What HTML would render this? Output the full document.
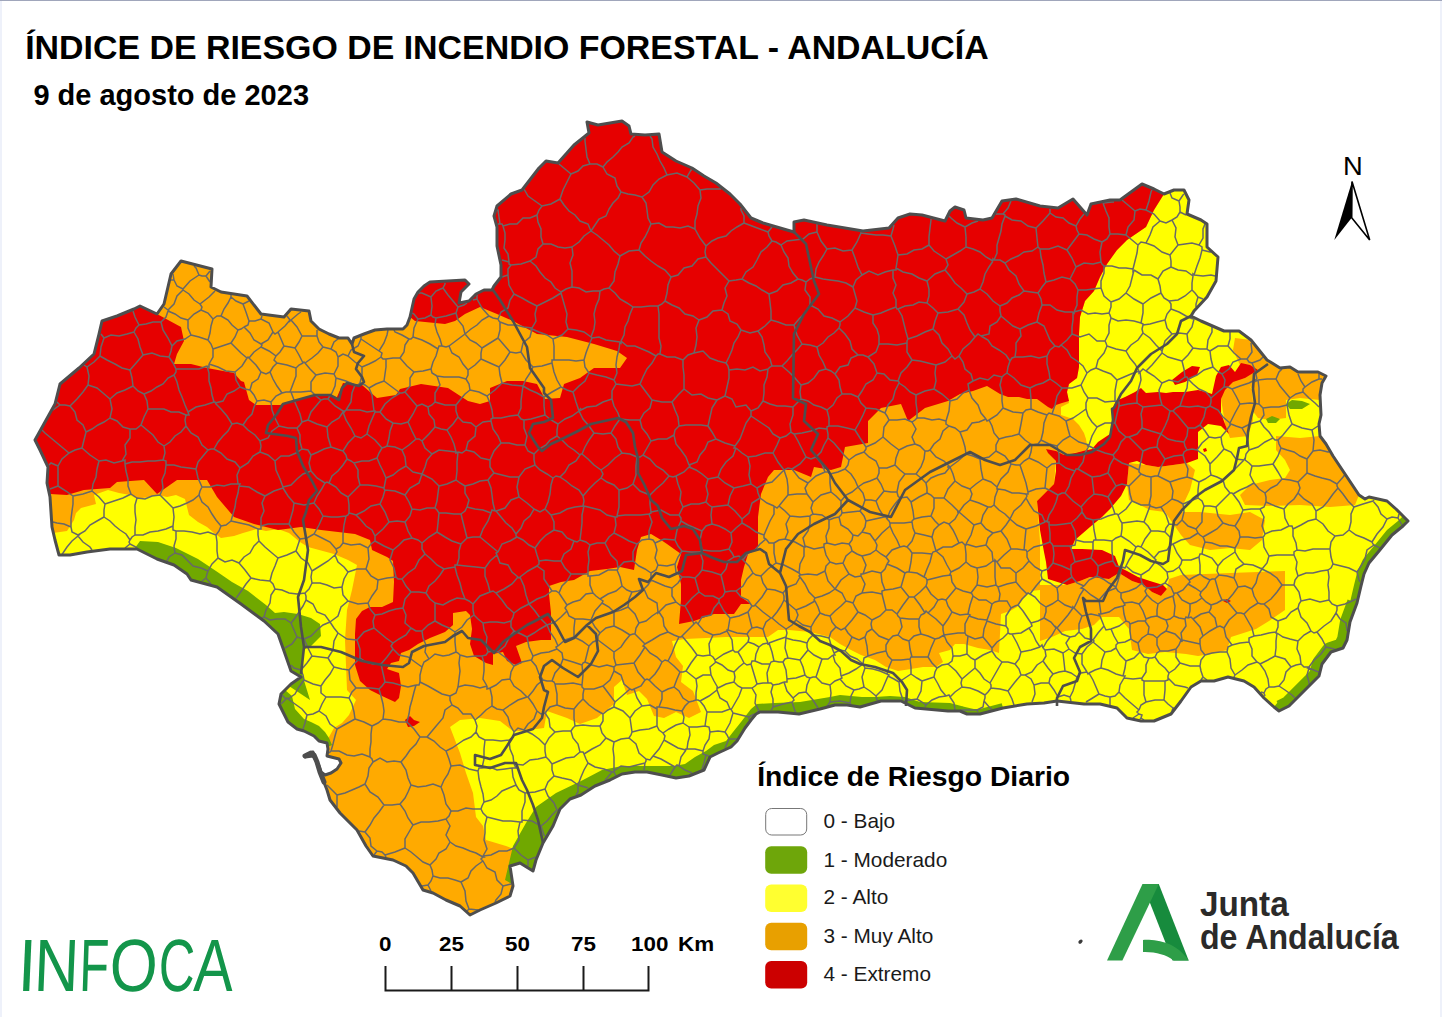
<!DOCTYPE html>
<html><head><meta charset="utf-8"><style>
html,body{margin:0;padding:0;background:#fff;}
body{width:1442px;height:1017px;overflow:hidden;position:relative;font-family:"Liberation Sans",sans-serif;}
.t{position:absolute;white-space:nowrap;line-height:1;}
#bl{position:absolute;left:0;top:0;width:2px;height:1017px;background:#eef1fa;}
#br{position:absolute;right:0;top:0;width:2px;height:1017px;background:#eef1fa;}
#bt{position:absolute;left:0;top:0;width:1442px;height:1px;background:#a0a6bb;}
svg{position:absolute;left:0;top:0;}
.inf{top:929.2px;font-size:74px;color:#13954a;}
.sc{top:934.3px;font-size:20px;font-weight:bold;color:#000;transform-origin:0 0;transform:scaleX(1.12);}
</style></head><body>
<div id="bl"></div><div id="br"></div><div id="bt"></div>
<svg width="1442" height="1017" viewBox="0 0 1442 1017">
<defs><clipPath id="c"><path d="M35,440 L55,404 L60,384 L79,368 L94,354 L99,334 L102,321 L117,316 L134,309 L140,306 L157,314 L164,304 L171,274 L181,261 L212,269 L211,287 L221,292 L247,296 L261,314 L284,317 L291,309 L309,311 L311,321 L319,329 L329,334 L339,338 L348,338 L352,344 L354,338 L364,334 L375,330 L387,329 L403,329 L407,325 L410,317 L414,299 L418,292 L424,286 L430,282 L465,280 L469,284 L461,292 L459,303 L469,301 L476,294 L484,290 L492,290 L494,286 L501,277 L501,265 L497,246 L497,227 L494,216 L497,206 L511,194 L522,190 L539,168 L546,161 L558,163 L574,145 L589,133 L587,122 L598,125 L622,121 L629,126 L631,134 L645,135 L659,134 L662,152 L676,161 L692,168 L704,176 L716,183 L730,194 L740,204 L751,218 L763,223 L787,230 L794,232 L794,222 L804,220 L827,225 L863,231 L889,228 L898,218 L910,214 L922,215 L945,221 L950,211 L955,207 L964,210 L966,218 L983,220 L992,218 L1002,201 L1016,199 L1040,206 L1058,208 L1073,199 L1087,215 L1091,204 L1110,200 L1120,200 L1131,192 L1142,184 L1154,189 L1164,194 L1174,190 L1184,190 L1189,200 L1187,214 L1201,220 L1207,224 L1207,247 L1218,257 L1216,281 L1207,297 L1194,311 L1191,316 L1201,321 L1224,331 L1239,331 L1251,340 L1259,350 L1267,360 L1280,368 L1290,367 L1298,372 L1318,372 L1326,376 L1322,383 L1320,395 L1321,415 L1319,424 L1320,436 L1326,444 L1333,456 L1341,468 L1351,483 L1359,495 L1365,499 L1369,497 L1387,501 L1396,509 L1408,521 L1403,526 L1392,535 L1379,551 L1369,563 L1364,574 L1361,586 L1357,603 L1350,622 L1347,640 L1343,648 L1331,652 L1322,664 L1319,676 L1310,685 L1298,697 L1289,706 L1279,711 L1274,707 L1264,698 L1254,687 L1244,681 L1228,677 L1214,681 L1201,681 L1191,687 L1181,701 L1171,714 L1154,721 L1141,721 L1127,718 L1117,708 L1100,704 L1084,704 L1057,701 L1044,703 L1027,704 L1003,708 L980,714 L967,714 L960,711 L948,711 L915,708 L901,701 L881,701 L860,707 L847,705 L835,705 L820,709 L799,714 L778,712 L760,712 L756,714 L751,720 L745,728 L737,741 L731,747 L718,753 L710,757 L704,770 L689,776 L676,778 L662,775 L647,772 L635,772 L622,774 L610,780 L595,786 L581,795 L570,799 L560,809 L553,826 L543,843 L536,860 L533,871 L520,863 L510,866 L513,886 L510,896 L496,903 L480,910 L470,915 L460,906 L446,900 L433,893 L423,890 L413,873 L406,866 L393,860 L373,856 L366,846 L357,830 L350,823 L340,813 L330,800 L327,790 L323,780 L319,769 L316,759 L313,752 L306,755 L305,757 L313,756 L316,760 L319,766 L321,772 L325,775 L331,773 L337,769 L341,763 L339,759 L331,757 L327,756 L328,749 L327,743 L319,741 L314,736 L304,731 L297,729 L288,722 L279,704 L281,694 L291,684 L301,677 L291,671 L284,651 L278,634 L264,621 L241,604 L217,587 L191,580 L187,574 L174,565 L157,559 L137,549 L110,549 L87,552 L70,555 L59,555 L55,540 L52,527 L50,497 L47,483 L48,467 L40,450 Z"/></clipPath></defs>
<g clip-path="url(#c)">
<rect x="0" y="0" width="1442" height="1017" fill="#ffaa00"/>
<path fill="#ffff00" d="M40,534 L53,533 L67,531 L74,520 L76,513 L81,508 L96,504 L94,495 L108,490 L119,493 L130,495 L137,499 L148,497 L158,495 L167,497 L176,495 L185,499 L189,515 L198,522 L207,527 L214,533 L221,538 L234,536 L243,533 L257,529 L266,531 L278,529 L289,533 L300,542 L308,547 L334,554 L348,560 L357,565 L352,590 L347,610 L345,640 L347,690 L356,700 L349,715 L342,723 L334,728 L329,737 L326,742 L300,770 L200,720 L20,600 Z M516,863 L516,850 L506,846 L486,840 L483,826 L476,817 L473,793 L466,773 L460,753 L450,727 L460,720 L480,718 L500,721 L513,731 L520,731 L544,728 L547,711 L567,718 L580,724 L597,718 L614,704 L614,687 L622,680 L627,695 L639,691 L647,699 L654,716 L664,718 L676,712 L689,718 L701,712 L693,691 L681,682 L683,666 L676,657 L672,641 L685,639 L706,638 L726,637 L747,637 L768,637 L778,630 L789,630 L810,632 L830,637 L840,644 L851,650 L861,655 L875,660 L886,667 L898,671 L911,669 L923,667 L936,667 L943,662 L939,653 L950,650 L955,644 L964,644 L978,648 L990,650 L999,653 L1001,614 L1010,611 L1017,607 L1024,598 L1031,591 L1040,590 L1040,541 L1037,501 L1046,492 L1054,484 L1056,461 L1046,449 L1064,455 L1083,451 L1088,451 L1086,439 L1084,433 L1079,425 L1073,419 L1061,415 L1061,407 L1069,403 L1067,392 L1069,384 L1077,378 L1079,367 L1079,334 L1080,317 L1085,301 L1094,291 L1100,277 L1107,264 L1117,250 L1127,240 L1146,227 L1154,210 L1164,194 L1260,150 L1442,150 L1442,1017 L540,1017 L540,880 Z"/>
<path fill="#ffaa00" d="M1040,585 L1067,585 L1080,581 L1090,577 L1109,579 L1119,573 L1132,581 L1144,585 L1152,592 L1161,596 L1167,589 L1169,579 L1181,575 L1230,573 L1285,571 L1285,610 L1269,621 L1256,629 L1231,637 L1227,650 L1211,654 L1198,656 L1186,654 L1165,652 L1148,654 L1132,650 L1129,629 L1119,617 L1102,617 L1094,625 L1082,629 L1065,631 L1052,637 L1040,641 Z M1235,338 L1251,340 L1259,350 L1267,360 L1280,368 L1290,367 L1298,372 L1318,372 L1326,376 L1322,383 L1320,400 L1300,398 L1286,400 L1286,418 L1270,420 L1258,418 L1252,410 L1253,390 L1245,380 L1240,365 L1233,350 Z M1225,380 L1245,378 L1252,390 L1253,420 L1248,436 L1230,438 L1225,424 L1221,399 Z M1276,436 L1300,438 L1320,436 L1326,444 L1333,456 L1341,468 L1351,483 L1359,495 L1355,505 L1330,507 L1300,505 L1270,506 L1245,505 L1240,495 L1250,485 L1270,480 L1285,478 L1290,470 L1285,460 L1276,450 Z M1129,463 L1146,465 L1158,467 L1173,465 L1187,463 L1195,470 L1190,490 L1183,505 L1181,512 L1200,512 L1230,515 L1250,512 L1265,520 L1262,540 L1250,550 L1230,548 L1210,550 L1190,545 L1181,535 L1165,512 L1150,510 L1140,505 L1129,500 L1127,484 Z"/>
<path fill="#e60000" d="M48,488 L47,483 L48,467 L40,450 L35,440 L55,404 L60,384 L79,368 L94,354 L99,334 L102,321 L117,316 L134,309 L140,306 L157,314 L181,327 L184,341 L177,354 L174,364 L191,364 L207,368 L234,373 L241,381 L244,382 L249,400 L256,405 L280,405 L296,400 L318,395 L337,397 L343,383 L362,385 L370,392 L377,398 L396,395 L400,389 L421,384 L448,388 L468,401 L480,404 L490,401 L490,388 L507,381 L523,381 L537,384 L545,399 L560,398 L564,384 L580,378 L594,368 L620,368 L627,358 L617,351 L594,344 L567,337 L537,334 L513,321 L497,314 L480,307 L465,314 L455,321 L445,324 L415,321 L410,317 L414,299 L418,292 L424,286 L430,282 L465,280 L469,284 L461,292 L459,303 L469,301 L476,294 L484,290 L492,290 L494,286 L501,277 L501,265 L497,246 L497,227 L494,216 L497,206 L511,194 L522,190 L539,168 L546,161 L558,163 L574,145 L589,133 L587,122 L598,125 L622,121 L629,126 L631,134 L645,135 L659,134 L662,152 L676,161 L692,168 L704,176 L716,183 L730,194 L740,204 L751,218 L763,223 L787,230 L794,232 L794,222 L804,220 L827,225 L863,231 L889,228 L898,218 L910,214 L922,215 L945,221 L950,211 L955,207 L964,210 L966,218 L983,220 L992,218 L1002,201 L1016,199 L1040,206 L1058,208 L1073,199 L1087,215 L1091,204 L1110,200 L1120,200 L1131,192 L1142,184 L1154,189 L1164,194 L1154,210 L1146,227 L1127,240 L1117,250 L1107,264 L1100,277 L1094,291 L1085,301 L1080,317 L1079,334 L1079,367 L1077,378 L1069,384 L1067,392 L1069,401 L1062,403 L1056,405 L1052,409 L1048,407 L1037,399 L1027,399 L1019,397 L1008,397 L1000,394 L987,386 L973,391 L960,394 L948,401 L925,408 L908,421 L901,404 L881,408 L868,421 L868,443 L845,447 L841,467 L831,470 L814,467 L811,477 L794,470 L774,470 L768,477 L761,494 L758,517 L758,547 L748,554 L744,567 L741,580 L741,597 L751,604 L741,604 L734,614 L714,614 L694,621 L679,624 L681,600 L681,584 L677,567 L681,554 L667,544 L661,540 L651,534 L641,537 L637,550 L634,570 L620,567 L607,569 L590,571 L574,580 L561,582 L549,586 L549,594 L551,613 L551,640 L541,640 L526,642 L516,646 L522,663 L516,665 L507,661 L503,652 L493,654 L493,665 L486,663 L474,656 L470,644 L472,629 L470,615 L466,611 L453,613 L453,625 L445,632 L430,638 L418,644 L409,650 L401,653 L399,661 L391,663 L387,669 L399,673 L401,686 L399,698 L395,702 L382,696 L370,690 L360,681 L355,665 L355,634 L356,619 L362,611 L370,607 L382,607 L393,602 L394,582 L393,561 L387,557 L372,550 L370,540 L355,534 L321,530 L301,527 L278,530 L254,524 L234,517 L217,497 L207,480 L177,480 L167,487 L157,494 L144,480 L117,482 L110,488 L84,490 L67,495 L50,494 Z M1116,401 L1125,397 L1135,392 L1141,388 L1146,393 L1158,392 L1166,393 L1173,392 L1185,392 L1198,390 L1206,392 L1212,394 L1216,376 L1221,367 L1229,365 L1235,372 L1241,363 L1250,365 L1258,370 L1245,378 L1233,382 L1225,390 L1221,399 L1221,413 L1225,424 L1229,434 L1221,426 L1208,424 L1198,432 L1198,459 L1187,463 L1173,465 L1158,467 L1146,465 L1137,461 L1129,463 L1127,484 L1121,496 L1110,509 L1102,517 L1090,527 L1075,540 L1071,549 L1082,549 L1102,550 L1115,556 L1119,567 L1127,571 L1138,577 L1150,581 L1163,585 L1167,589 L1161,596 L1152,592 L1144,585 L1132,581 L1119,573 L1109,579 L1090,577 L1080,581 L1067,585 L1048,579 L1046,562 L1044,552 L1040,530 L1037,501 L1046,492 L1054,484 L1056,471 L1056,461 L1048,453 L1046,449 L1056,451 L1064,455 L1075,453 L1083,451 L1092,449 L1098,442 L1110,434 L1112,422 L1112,409 Z M1172,380 L1182,372 L1192,366 L1200,367 L1197,375 L1185,382 L1175,385 Z M405,720 L410,716 L414,720 L420,722 L414,726 L408,727 Z M1223,601 L1227,599 L1231,601 L1227,603 Z M1203,449 L1206,448 L1207,451 L1204,452 Z"/>
<path fill="#70a800" d="M134,562 L135,548 L140,541 L158,542 L176,548 L198,559 L216,571 L232,582 L248,591 L266,605 L275,613 L284,612 L298,614 L311,618 L320,624 L321,636 L311,646 L303,650 L302,674 L310,700 L250,660 L120,570 Z M285,690 L292,696 L295,709 L304,719 L311,722 L319,726 L325,732 L329,738 L332,745 L300,760 L265,710 L275,690 Z M505,880 L513,846 L526,823 L536,807 L556,793 L583,780 L602,770 L622,766 L654,766 L674,766 L685,764 L695,757 L706,751 L714,745 L726,741 L733,732 L741,722 L751,709 L757,704 L775,703 L800,702 L830,697 L840,695 L862,697 L875,697 L890,696 L905,697 L920,702 L950,703 L965,707 L987,712 L1000,712 L1010,713 L1010,730 L800,730 L600,820 L540,900 Z M1286,404 L1292,400 L1302,401 L1310,404 L1302,409 L1290,409 Z M1266,419 L1272,416 L1280,419 L1276,423 L1268,423 Z"/>
<path fill="none" stroke="#70a800" stroke-width="14" stroke-linejoin="round" d="M1408,521 L1403,526 L1392,535 L1379,551 L1369,563 L1364,574 L1361,586 L1357,603 L1350,622 L1347,640 L1343,648 L1331,652 L1322,664 L1319,676 L1310,685 L1298,697 L1289,706 L1279,711 L1274,707"/>
<path fill="none" stroke="#70a800" stroke-width="20" stroke-linejoin="round" d="M1357,603 L1350,622 L1347,640 L1343,648 L1331,652 L1322,664 L1319,676 L1310,685 L1298,697 L1289,706 L1281,710"/>
<path fill="none" stroke="#70a800" stroke-width="10" stroke-linejoin="round" d="M1003,708 L980,714 L967,714 L960,711"/>
<path fill="none" stroke="#686868" stroke-width="1.5" d="M650,136 652,139 653,147 657,154 660,161 664,168 667,175M692,170 691,170 687,177M667,175 677,173 687,177M679,426 686,425 693,425 701,425 708,426M679,426 678,417 675,410 672,402M708,426 710,417 712,408 717,400M717,400 708,398 701,394 692,395 684,389M672,402 678,395 684,389M687,177 694,183 700,190M700,190 707,189 714,189 721,189 721,189M700,190 701,198 698,206 697,214 695,221 695,229M706,246 700,238 695,229M706,246 712,241 718,238 726,236 731,231 737,227 744,223M741,208 741,210 744,216 744,223M665,301 667,293 668,285 671,277M665,301 672,305 679,308 685,314 693,316 699,320M671,277 678,275 684,268 692,266 698,259 706,257M706,257 711,263 717,269 723,275 729,281M729,281 725,288 727,296 724,303 722,310M699,320 707,317 713,311 722,310M665,301 662,304 658,306M658,306 659,314 659,322 659,330 659,338 661,346 660,354M683,360 675,357 667,357 660,354M683,360 688,355 694,353M699,320 696,328 697,337 696,345 694,353M667,175 659,179 653,185 649,192 642,197M635,136 633,137 629,143 622,147 618,152 613,157 607,162 603,167M603,167 607,174 615,178 617,186 621,192M642,197 635,195 628,194 621,192M695,229 688,226 680,228 673,227 666,227 659,223 651,224M642,197 646,203 647,210 648,218 651,224M671,277 665,270 658,266 651,261 645,256 639,250M706,257 705,252 706,246M651,224 648,231 645,237 641,243 639,250M603,167 597,164 590,164M585,138 585,141 586,149 587,157 590,164M658,306 650,306 641,307 633,307M660,354 658,354 656,356M633,307 630,314 628,321 625,327 624,335 621,341M656,356 649,352 642,349 635,346 627,346 621,341M679,426 675,430 674,435M708,426 712,432 716,439M716,439 708,442 705,449 700,455 697,462 689,465M674,435 676,444 681,450 686,457 689,465M221,526 216,520 212,514 208,507 202,502 199,495M221,526 219,531 216,535M199,495 193,500 187,503 180,506 173,508M216,535 208,532 200,534 192,532 184,531 176,531M176,531 173,530 173,526M173,526 174,517 173,508M58,486 50,489M58,486 58,476 58,466M58,466 51,463 49,465M53,522 57,523 64,524 71,527M71,527 71,519 72,511 73,504 73,496M73,496 66,491 58,486M166,465 174,465 181,467 189,468 196,469M166,465 165,473 162,480 163,488 160,495M199,495 200,491 202,487M173,508 167,502 160,495M196,469 198,478 202,487M369,388 365,385 360,383M369,388 376,384 384,381M360,383 362,375 362,367M386,359 386,367 385,374 384,381M386,359 383,359 381,357M362,367 369,364 375,361 381,357M422,886 428,885M428,885 431,891M925,707 926,705M926,705 922,702 917,699M917,699 910,700 904,701M1295,698 1292,695 1285,690 1279,686M1265,696 1264,693M1279,686 1274,687 1269,687M1269,687 1266,689 1264,693M1373,501 1374,500M1373,501 1378,507 1381,514 1387,519M1399,514 1398,518M1398,518 1392,517 1387,519M1344,475 1344,476 1337,484M1354,507 1363,504 1373,501M1354,507 1348,501 1343,494 1338,488M1337,484 1337,486 1338,488M1349,530 1356,535 1364,538 1372,542M1349,530 1351,522 1351,514 1354,507M1372,542 1377,534 1383,527 1387,519M1402,525 1398,518M1015,357 1012,358 1010,361M1015,357 1016,350 1016,343 1021,336 1020,329M1010,361 1006,355 999,350 992,346 988,340 981,336M981,336 989,334 990,326 997,322 1001,316M1020,329 1013,326 1007,321 1001,316M742,279 749,283 756,286 762,290 769,294M742,279 736,280 729,281M722,310 728,314 730,321 737,324 741,330M771,320 771,311 770,302 769,294M771,320 765,326 758,331M758,331 750,333 741,330M694,353 703,351 710,358 718,361 726,363M741,330 738,337 734,343 732,350 729,357 726,363M725,396 721,398 717,400M725,396 727,387 729,378 729,370M684,389 684,382 684,375 683,367 683,360M729,370 728,366 726,363M621,192 618,198 613,203 609,209 606,216 599,219 595,225 591,231M639,250 629,251 620,256M591,231 592,231 591,231M620,256 614,251 609,245 603,240 597,235 591,231M633,307 627,303 620,299 615,293 609,288M620,256 618,264 615,272 614,281 609,288M592,338 591,337 591,337M592,338 599,337 606,340 613,341 620,342M620,342 621,343 621,341M591,337 594,329 595,322 594,314 596,306 599,299 600,291M609,288 604,289 600,291M591,231 588,224 580,221 575,215 569,211 564,205 560,199M590,164 583,166 578,171 571,174M560,199 563,190 567,182 571,174M571,174 565,169 559,164 559,164M485,568 485,576 488,584 490,592M485,568 490,561 497,555M497,555 500,563 508,565 512,572 518,577M518,577 512,584 504,589 496,593M490,592 493,591 496,593M529,604 526,595 524,586 520,577M529,604 537,599 545,596 552,591M520,577 528,571 537,566M537,566 544,571 544,579 548,585 552,591M535,548 537,555 539,561M535,548 540,541 546,535 554,530M554,530 562,532 567,538 574,541M539,561 546,560 554,561 561,561M561,561 564,554 571,549 574,541M674,435 667,439 658,439 651,441M651,441 647,448 643,455M643,455 650,459 656,466 663,470 669,476M689,465 690,466 689,467M689,467 684,472 676,476M676,476 673,477 669,476M706,502 699,504 691,504 683,507M706,502 708,494 706,486 708,479M708,479 702,474 696,470 689,467M676,476 678,484 681,492 680,500 683,507M725,396 732,399 736,407 746,405 751,411M716,439 725,443 735,446M751,411 751,414 751,416M735,446 740,439 743,431 746,423 751,416M612,399 612,391 616,384M612,399 614,406 618,413 620,419M616,384 624,385 632,386 640,384M640,420 630,420 620,419M640,420 644,413 650,408 652,400M652,400 646,392 640,384M656,356 652,363 647,369 643,377 640,384M620,342 619,349 617,357 616,365 617,373 614,380M614,380 615,382 616,384M672,402 662,402 652,400M651,441 647,434 642,428 640,420M210,271 206,276M206,276 202,276 199,275M199,275 196,268 194,266M173,526 166,529 158,531 150,532 143,535 135,535M160,495 152,496 145,499 137,498M137,498 135,505 135,512 136,520 135,527 135,535M168,310 174,304 177,296 183,290M168,310 164,307M171,280 174,280M174,280 177,286 183,289M183,289 183,290 183,290M173,274 174,280M199,275 190,281 183,289M337,729 346,724 355,719M337,729 335,736 333,744 331,751M355,719 364,722 372,726M331,751 339,751 347,755 354,756 362,754 370,757M372,726 371,734 371,742 370,749 370,757M337,729 330,724 326,716 319,711M355,719 354,712 352,704 349,698M319,711 322,704 326,697M349,698 341,697 334,697 326,697M216,535 217,542 217,551 218,558M176,531 176,539 174,546 175,553M175,553 182,555 188,561 193,566 201,568 208,571M208,571 212,564 218,558M480,537 483,529 488,521 491,513M480,537 486,542 492,547 498,552M498,552 502,544 510,541 517,537M491,513 492,510 495,511M517,537 516,536 516,534M516,534 512,528 506,523 501,517 496,511M495,511 496,511 496,511M467,538 473,537 480,537M467,538 465,530 463,522 461,514M461,514 465,511 467,507M467,507 475,509 483,510 491,513M485,568 476,567 466,566 457,565M497,555 496,553 498,552M467,538 464,541 461,544M461,544 459,551 459,558 457,565M518,577 519,578 520,577M535,548 529,545 523,540 517,537M537,566 539,564 539,561M488,480 491,488 492,495 493,503 495,511M488,480 480,481 473,484 465,486M465,486 465,493 469,500 467,507M534,509 527,503 519,497M534,509 530,516 524,521 521,528 516,534M519,497 511,500 505,508 496,511M457,565 455,565 455,567M490,592 480,596 473,604M473,604 469,601 465,599M465,599 462,591 460,583 457,575 455,567M215,403 221,409 227,416 232,424M215,403 223,401 227,394 234,391 240,387M257,401 254,395 250,390M257,401 254,407 252,414 247,419 243,425M243,425 237,423 232,424M240,387 245,389 250,390M206,276 210,282M183,290 189,294 194,300 200,304M215,291 209,297 200,304M278,558 272,553 265,547 259,541M278,558 275,566 272,573 270,581M259,541 254,546 250,553 244,557 239,563M270,581 260,580 251,578M239,563 245,570 251,578M221,526 226,525 231,521M231,521 240,523 249,525 258,529M258,529 258,535 259,541M218,558 225,562 232,560 239,563M262,618 264,617M275,589 271,595 270,603 266,610 264,617M275,589 273,584 270,581M236,598 237,597 242,590 246,584 251,578M196,469 198,462 203,456 208,450M202,487 210,487 217,485 224,486 231,484 238,484M214,449 211,449 208,450M214,449 221,453 227,459 235,462 240,468M238,484 237,475 240,468M231,521 233,514 235,507 236,500 238,493 239,486M238,484 240,484 239,486M258,529 261,529 261,526M261,526 261,518 264,511 262,503 265,496M239,486 249,487 257,492 265,496M214,449 218,442 223,436 228,431 232,424M260,441 261,446 260,452M260,441 255,435 248,430 243,425M240,468 248,463 253,456 260,452M488,480 491,476 494,473M519,497 517,487 519,477M519,477 510,477 502,475 494,473M417,406 413,414 408,422M417,406 411,399 405,392M400,393 402,393 405,392M400,393 392,398 385,404 380,412M408,422 401,424 393,423M380,412 386,419 393,423M428,407 422,404 417,406M428,407 432,405 435,402M437,376 440,385 435,393 435,402M437,376 432,373 431,369M405,392 410,386 410,378 414,372M431,369 423,371 414,372M386,359 393,358 400,358M384,381 392,387 400,393M414,372 407,366 400,358M477,295 477,299M443,288 445,284 445,283M443,288 448,295 453,301 458,307M458,307 464,305 467,303M473,300 477,299M443,288 436,291 431,297M419,293 422,293 431,297M355,385 352,393 351,402 346,410M355,385 346,381 336,378M336,378 335,386 332,393 328,399M328,399 335,406 343,411M343,411 345,411 346,410M369,388 372,395 373,403 374,411M360,383 358,385 355,385M346,410 353,410 360,410 367,412 374,411M380,412 378,412 375,412M374,411 375,411 375,412M302,449 300,442 300,435 297,428M302,449 296,453 289,456 281,456 275,461M260,441 268,438 272,431 279,426M260,452 268,455 275,461M279,426 288,428 297,428M257,401 264,400 271,402M279,426 275,418 272,410 271,402M644,770 644,770 645,763M670,775 675,767M675,767 668,763 661,759 653,756M653,756 650,760 646,759M645,763 646,761 646,759M483,861 476,866 471,871 468,878 461,882M483,861 487,868 495,872 497,880 503,886M461,882 465,891 466,901 469,909M503,886 501,894 496,900 495,902M478,910 469,909M433,876 440,878 448,878 455,880 461,882M433,876 432,870 430,865M483,857 481,859 483,861M483,857 476,853 470,851 463,848 456,846 450,842M450,842 446,849 439,853 436,859 430,865M433,876 431,881 428,885M467,911 469,909M511,884 503,886M892,660 901,660 910,659M892,660 889,667 887,674M899,682 905,678 911,674M899,682 894,679 888,676M911,674 911,667 910,659M888,676 889,675 887,674M922,681 917,678 911,674M922,681 921,691 917,699M903,700 900,691 899,682M878,700 877,700 876,696M876,696 882,690 885,683 888,676M922,681 928,679 934,677M926,705 932,700 939,697 946,696M946,696 941,690 938,684 934,677M851,704 850,703M850,703 840,701 830,702M830,702 828,705 827,706M794,325 786,325 778,322 771,320M794,325 799,319 805,313 810,305M769,294 777,291 783,285 791,283 798,279M810,305 810,297 805,290 806,282M798,279 802,280 806,282M898,255 895,246 891,236M898,255 897,262 896,268M891,236 883,235 876,235 868,234 861,233M862,275 858,267 855,258 852,250M862,275 869,271 878,275 885,272 893,270M893,270 896,270 896,268M852,250 857,242 861,233M862,275 856,280 853,287M853,287 846,283 838,281 830,280 823,279 815,277M815,277 816,269 819,262 823,256 827,249M852,250 843,251 835,248 827,249M894,225 893,229 891,236M861,232 861,233M967,294 961,288 955,283 950,276 945,270M967,294 964,302 958,309M958,309 948,312 938,313M945,270 935,274 927,281M927,281 929,289 929,296 927,303M938,313 933,308 927,303M980,289 974,292 967,294M980,289 987,294 993,301 1000,306M981,336 978,334 975,337M975,337 970,330 967,323 964,315 958,309M1000,306 1000,311 1001,316M893,270 893,278 896,285 893,293 896,300 896,307M896,268 903,272 912,274 919,278 927,281M896,307 897,309 898,309M898,309 905,306 913,305 919,302 927,303M933,329 935,321 938,313M933,329 925,332 917,336 908,339M908,339 906,332 904,324 902,316 898,309M1023,413 1021,424 1019,434M1023,413 1013,412 1003,408M999,439 1006,437 1012,436 1019,434M999,439 994,433 992,426 989,420M1003,408 997,415 989,420M1264,693 1261,692M1374,545 1380,548M1374,545 1367,550 1365,559 1361,566 1357,572M1357,572 1359,580 1360,582M1372,542 1373,544 1374,545M996,214 997,214 1003,214M1003,214 1008,208 1011,201M1050,209 1050,213M1050,213 1043,221 1036,228M1036,228 1028,226 1021,221 1012,220 1005,216M1005,216 1005,215 1003,214M965,227 966,237 966,247M965,227 957,223 951,218 949,216M931,219 931,220 930,228 929,237 929,245M966,247 960,251 953,255 946,259M929,245 934,251 940,255 946,259M1005,216 1002,224 1001,231 999,238 997,245 997,253 994,260M994,260 993,259 993,261M993,261 986,257 980,252 973,249 966,247M978,221 972,223 965,227M898,255 907,254 914,250 922,249 929,245M980,289 983,282 985,274 989,267 993,261M945,270 948,265 946,259M1122,200 1128,205 1135,211M1152,190 1151,192 1149,201 1146,210M1135,211 1140,209 1146,210M1135,211 1134,220 1128,227 1126,235M1146,210 1154,214 1160,221M1138,245 1132,240 1126,235M1138,245 1141,242 1146,243M1160,221 1153,227 1150,235 1146,243M1160,221 1166,223 1172,220M1170,255 1174,250 1178,245M1170,255 1162,252 1154,246 1146,243M1172,220 1176,228 1175,237 1178,245M1037,322 1039,313 1042,305M1037,322 1028,325 1020,329M1000,306 1007,303 1012,298 1019,295 1024,291M1042,305 1041,299 1038,293M1024,291 1031,292 1038,293M994,260 1000,260 1005,263M1024,291 1019,284 1016,276 1009,270 1005,263M1036,228 1037,238 1038,247M1005,263 1011,259 1018,256 1024,252 1032,251 1038,247M1015,357 1023,357 1031,356 1039,358 1047,356M1037,322 1044,326 1047,333 1050,340 1055,346M1047,356 1050,350 1055,346M1072,334 1067,340 1061,345M1072,334 1080,337 1089,334 1097,341 1105,341M1105,341 1106,343 1107,346M1096,368 1098,360 1104,353 1107,346M1096,368 1091,370 1087,373M1087,373 1083,366 1077,361 1071,357 1067,350 1061,345M1072,334 1072,327 1073,320 1073,312M1073,312 1065,312 1057,310 1050,305 1042,305M1055,346 1059,347 1061,345M1066,421 1073,418 1079,414 1086,409M1066,421 1068,429 1070,436M1070,436 1079,442 1089,445M1086,409 1088,416 1092,422 1097,427M1089,445 1092,436 1097,427M998,489 997,489 997,487M998,489 1005,490 1012,493 1019,493 1026,494M997,487 1001,479 1008,472 1011,464M1026,494 1028,494 1028,492M1028,492 1026,483 1023,474 1020,465M1011,464 1016,465 1020,465M980,459 981,469 983,479M980,459 989,457 996,451M996,451 1005,456 1011,464M983,479 991,482 997,487M999,439 996,445 996,451M1019,434 1025,440 1032,445M1032,445 1031,452 1029,458M1029,458 1024,461 1020,465M1029,458 1038,462 1047,468M1028,492 1036,489 1045,488M1045,488 1046,478 1047,468M1057,446 1059,454 1059,463M1057,446 1049,444 1041,440M1041,440 1038,444 1032,445M1059,463 1052,464 1047,468M825,472 822,464 816,457M825,472 816,476 808,483M808,483 799,478 792,469M792,469 800,464 806,457M806,457 811,459 816,457M930,450 936,457 944,461 950,467M930,450 934,444 940,439 943,431 949,426M949,426 955,428 960,432M960,432 963,440 965,447 966,454M966,454 958,461 950,467M980,459 973,456 966,454M989,420 987,421 986,419M986,419 979,422 972,423 967,430 960,432M825,472 828,472 830,474M816,457 821,452 824,445 828,438M830,474 838,472 845,469M845,469 848,465 849,460M849,460 844,455 839,449 834,443 828,438M794,434 798,441 802,449 806,457M794,434 802,433 811,431 819,428 827,429M827,429 828,434 828,438M925,451 924,459 921,467 916,474M925,451 928,451 930,450M950,467 947,467 950,467M950,467 945,473 938,475 931,478 926,483M916,474 921,478 926,483M545,745 539,739 532,734 524,730M545,745 545,751 546,757M546,757 538,759 530,760 523,765 514,764M514,764 513,756 510,749 509,740M509,740 513,737 514,732M514,732 518,728 524,730M555,732 550,727 549,719 545,713M555,732 549,738 545,745M545,713 541,714 537,711M537,711 534,719 528,724 524,730M485,740 493,740 501,741 509,740M485,740 484,749 484,759 482,768M482,768 490,767 497,770 505,769 512,768M512,768 516,768 514,764M476,732 479,737 485,740M476,732 477,726 475,720M475,720 481,715 486,710 492,706M492,706 497,709 503,710M503,710 508,717 510,725 514,732M503,710 510,705 518,700 527,697M537,711 533,704 528,697M527,697 528,697 528,697M605,780 607,778 612,772M588,788 585,787 578,785M578,785 581,777 584,770 588,763M612,772 604,769 595,767 588,763M616,776 614,772M612,772 613,772 614,772M645,763 637,765 629,767 621,766 614,771M614,771 614,772 614,772M675,767 677,765 679,766M679,766 685,770 692,773M646,759 639,753 636,744 629,738M614,771 614,764 614,757 613,749 614,742M629,738 621,739 614,742M567,611 561,617 555,622 547,625M567,611 569,616 575,619M558,646 565,640 574,637M558,646 555,639 550,632 547,625M575,619 574,628 574,637M563,659 560,667 555,673 552,681M563,659 573,662 582,665M582,685 583,675 582,665M582,685 573,683 564,684 555,684M555,684 554,682 552,681M557,649 562,653 563,659M557,649 549,652 541,653 533,656M533,656 532,659 531,660M531,660 536,666 539,674 543,680M543,680 547,681 552,681M574,709 565,708 557,705M574,709 578,704 583,699M557,705 557,694 555,684M583,699 583,694 584,689M584,689 582,687 582,685M545,713 550,707 557,705M543,680 537,685 533,691 528,697M529,604 521,608 514,613M529,604 535,611 540,618 547,625M547,625 540,629 534,633 527,637M527,637 521,634 514,631M514,631 511,627 511,621M511,621 513,617 514,613M529,604 528,603 529,604M496,593 502,600 507,607 514,613M557,649 556,647 558,646M533,656 529,647 527,637M547,625 547,624 547,625M483,623 478,619 474,615M483,623 490,622 497,622 504,623 511,621M474,615 473,610 473,604M510,679 511,672 514,666M510,679 502,680 496,685 490,688M514,666 506,658 498,652M490,688 487,689 487,686M487,686 483,679 484,671 484,663 482,656M498,652 493,651 488,652M488,652 486,655 482,656M531,660 522,662 514,666M527,697 521,691 514,686 510,679M492,706 492,697 490,688M514,631 509,638 505,646 498,652M475,720 471,714 463,714 458,708 452,705M452,705 450,700 450,696M458,687 456,693 450,696M458,687 465,685 473,686 480,688 487,686M458,687 459,679 460,671 459,663 460,655M460,655 467,657 475,656 482,656M483,623 484,630 487,637 486,645 488,652M455,632 462,627 467,620 474,615M455,632 455,642 456,652M456,652 458,653 460,655M782,366 789,372 795,378 801,385M782,366 777,366 772,366M768,369 770,367 772,366M768,369 767,377 764,385 764,393 763,401M763,401 770,404 777,406 785,406 793,407M801,385 800,392 801,399M801,399 797,403 793,407M826,369 819,371 814,378 808,383 801,385M826,369 823,362 819,355 817,347M817,347 810,345 802,344M802,344 797,350 792,355 787,361 782,366M794,325 797,335 802,344M758,331 762,337 764,345 765,352 770,359 772,366M729,370 737,369 745,370 753,367 760,371 768,369M751,411 758,408 763,401M791,432 786,436 780,438M791,432 790,424 793,415 793,407M751,416 757,420 763,424 769,428 773,434 780,438M591,231 584,236 579,242 572,247M600,291 593,291 586,292 579,288 572,287M572,287 572,279 572,271 570,263 573,255 572,247M567,605 563,599 559,593M567,605 573,602 580,600 586,594 593,593M559,593 562,586 567,581 571,574M571,574 579,574 588,574M593,593 590,585 590,576M590,576 588,576 588,574M567,611 565,608 567,605M552,591 556,591 559,593M561,561 565,568 571,574M590,545 586,542 580,540M590,545 588,552 589,560 588,567 588,574M580,540 577,542 574,541M731,533 736,528 742,523M731,533 725,529 719,526 712,524M728,505 735,511 742,519M728,505 720,506 712,507M742,519 742,521 742,523M712,507 711,515 712,524M729,549 732,542 731,533M729,549 720,551 711,551 702,550M702,531 700,540 702,550M702,531 706,526 712,524M706,502 709,505 712,507M683,507 681,511 679,515M679,515 681,518 681,521M702,531 695,528 688,525 681,521M617,570 620,577 622,586M617,570 608,570 599,575 590,576M593,593 596,596 600,599M622,586 616,591 608,594 600,599M591,620 583,619 575,619M591,620 595,611 602,603M600,599 603,601 602,603M708,479 713,478 718,477M735,446 734,448 736,448M736,448 733,456 726,462 721,469 718,477M728,505 730,496 734,488M718,477 725,483 734,488M105,504 114,501 123,498 131,494M105,504 104,510 104,517M131,494 134,496 137,498M135,535 132,537 130,540M104,517 110,521 115,526 120,530 126,534 130,540M71,527 72,532 78,535M73,496 83,494 92,491M92,491 99,497 105,504M104,517 97,521 90,525 85,531 78,535M62,554 63,553 67,547 72,541 78,536M78,535 79,535 78,536M78,536 83,542 90,547 92,550M125,464 125,460 122,461M125,464 132,462 140,462 148,461 155,461 163,460M122,461 126,454 125,445 130,438 130,429M163,460 165,453 164,446M164,446 158,442 153,435 147,430 141,425M130,429 136,429 141,425M92,491 93,484 96,477 97,469 99,461M131,494 128,486 128,479 126,471 125,464M99,461 106,460 114,463 122,461M166,465 166,461 163,460M208,450 202,445 198,437 191,433 186,426M186,426 181,432 175,436 170,442 164,446M58,466 62,459 69,453M69,453 63,448 57,443 51,438 45,433 42,430M99,461 90,455 82,448M69,453 75,450 82,448M130,429 123,427 117,421 110,418M82,448 84,440 86,432M110,418 104,422 98,425 92,429 86,432M60,405 53,410M60,405 65,405 70,406M86,432 83,425 77,420 75,412 70,406M319,711 313,714 307,715M331,751 329,753 329,753M307,715 305,723 303,729M450,696 442,694 435,690 428,686 420,682M456,652 449,655 443,656 435,654 429,659M420,682 420,675 422,667M429,659 424,662 422,667M416,685 419,685 420,682M416,685 408,687 400,685 393,683 385,682M393,649 399,655 408,657 415,662 422,667M393,649 387,657 381,664M381,664 383,673 385,682M383,719 378,723 372,726M383,719 384,711 383,704 381,696 379,689M349,698 352,692 356,688M356,688 363,688 371,688 379,689M416,685 414,692 412,700 410,707 409,714 407,722M383,719 391,720 399,722 407,722M379,689 382,686 385,682M386,857 385,855M430,865 423,862 417,857 411,852 405,848M385,855 395,852 405,848M450,842 446,835 450,826 446,819M446,819 438,821 429,822 421,822 413,825M405,848 405,839 409,832 413,825M321,686 321,693 326,697M321,686 325,680 330,674 334,667M356,688 350,680 349,670M334,667 342,669 349,670M381,664 373,664 366,662 360,658M360,658 354,664 349,670M282,695 286,699M286,699 287,698 288,699M288,699 295,694 299,687 304,680M291,665 294,668 301,670M304,680 303,675 301,670M281,704 286,699M307,715 302,709 295,704 288,699M321,686 313,684 304,680M206,578 211,584M206,578 202,581M208,571 207,574 206,578M643,455 640,457 637,457M669,476 663,483 656,489 650,495M637,457 636,466 636,475 633,484M633,484 640,491 650,495M679,515 670,515 661,510 651,512M650,495 650,504 651,512M681,521 677,530 675,540M675,540 664,539 655,543M649,539 653,540 655,543M649,539 649,531 652,522 649,514M649,514 651,513 651,512M620,419 615,426 611,433M637,457 630,454 622,453M622,453 618,447 616,439 611,433M579,411 587,407 596,406 603,402 612,399M579,411 583,419 589,426 594,433M594,433 603,434 611,433M534,509 540,512 545,509M535,465 525,469 519,477M535,465 540,470 547,474 553,478M553,478 551,485 550,494 548,502 545,509M554,530 554,522 551,515M545,509 548,512 551,515M387,446 389,438 390,431 393,423M387,446 395,447 402,450M408,422 412,431 416,439M402,450 409,445 416,439M435,427 434,420 429,414 428,407M435,427 429,434 422,441M422,441 419,439 416,439M461,514 454,514 446,513 439,513M461,544 452,541 445,537 437,532M437,532 438,523 439,513M465,486 460,483 456,480M456,480 447,484 439,486M439,486 438,493 437,501 435,508M439,513 437,510 435,508M455,567 449,568 444,569M422,543 429,537 437,532M422,543 422,549 425,554M425,554 431,559 437,565 444,569M207,366 209,373 209,381 211,388 212,395 214,402M207,366 209,367 209,364M214,402 215,402 215,403M240,387 236,380 235,372M235,372 226,371 218,367 209,364M261,347 269,351 276,356M261,347 254,352 249,358M249,358 256,365 261,372M276,356 274,360 277,363M277,363 273,367 270,372M261,372 266,374 270,372M250,390 252,383 258,379 261,372M235,372 242,366 247,358M247,358 248,357 249,358M296,368 296,376 293,384 290,392M296,368 287,365 277,363M282,393 286,392 290,392M282,393 277,386 273,379 270,372M271,402 276,396 282,393M168,311 175,314 181,318 188,320M168,311 169,311 168,310M200,304 202,307 201,310M188,320 194,314 201,310M275,461 276,470 280,479 283,487M265,496 274,491 283,488M283,487 283,488 283,488M311,455 308,450 302,449M311,455 309,463 311,471M283,487 291,485 297,479 303,474 311,471M521,352 516,353 510,352M521,352 526,360 533,367M510,352 505,360 499,367M533,367 530,373 526,379 523,386M499,367 500,375 502,383M502,383 512,385 523,386M523,386 523,386 523,386M553,339 547,335 539,332 532,329M553,339 554,346 554,353 554,360M521,352 523,343 530,337 532,329M533,367 542,366 552,363M554,360 552,360 552,363M592,338 589,345 586,353 584,360M568,329 576,330 584,332 591,337M568,329 562,335 553,339M554,360 562,360 569,360 576,361 584,360M614,380 606,377 597,375 589,373M584,360 585,367 589,373M535,465 534,460 534,454M534,454 528,451 525,445M494,473 490,467 490,460M490,460 494,451 501,443M525,445 517,445 509,443 501,443M502,383 495,390 487,396M523,386 522,393 521,401 521,408 518,415M518,415 510,416 501,418 493,418M487,396 490,403 492,410 493,418M437,376 444,377 451,377 459,377 466,379M435,402 445,405 456,405M466,379 469,384 470,390M470,390 465,394 460,400 456,405M525,445 527,436 524,428 524,420M524,420 521,419 518,415M501,443 498,436 493,429 491,421M493,418 491,419 491,421M362,367 355,362 348,356M348,356 351,350 358,346 361,339M381,357 382,353 379,351M361,339 367,343 373,347 379,351M510,352 504,345 498,338M532,328 531,329 532,329M532,328 524,327 516,325 508,325 500,322M498,338 500,330 500,322M498,338 490,343 482,348M489,316 482,320 477,325 471,329 465,334M489,316 493,318 498,319M498,319 499,321 500,322M465,334 470,340 476,343 482,348M499,367 490,363 481,359M482,348 481,353 481,359M466,379 468,375 468,370M487,396 479,392 470,390M468,370 475,365 481,359M436,318 435,325 437,332 440,339 442,346M436,318 446,316 456,313M456,313 458,320 463,326 465,334M465,334 457,340 449,346M442,346 446,347 449,346M458,307 457,310 456,313M431,315 432,306 431,297M431,315 433,317 436,318M477,299 482,308 489,316M465,334 465,334 465,334M468,370 463,364 459,357 452,353 449,346M431,369 433,362 436,356 438,349M438,349 439,346 442,346M412,313 414,314 418,319M394,330 395,332 402,335 409,339M418,319 414,328 413,337M409,339 411,339 413,337M431,315 425,318 418,319M361,339 361,337M379,351 384,343 387,335 388,330M400,358 404,352 405,345 409,339M438,349 430,344 422,340 413,337M291,392 294,400 297,407 300,414 302,422M291,392 301,392 311,391M321,400 316,396 311,391M321,400 316,406 311,412 308,420M308,420 305,421 302,422M297,428 300,425 302,422M290,392 291,392 291,392M328,399 324,399 321,400M343,411 345,412 343,412M327,427 332,422 339,418 343,412M327,427 317,424 308,420M311,455 318,452 324,449 331,447M327,427 328,437 331,447M301,312 298,314 291,320M317,330 317,336M317,336 309,336 302,336M302,336 297,327 291,320M303,363 299,355 295,348M303,363 299,365 296,368M276,356 280,352 284,346M284,346 290,347 295,348M331,349 327,348 323,347M331,349 336,352 338,357M323,347 318,353 312,358 305,363M338,357 338,366 334,374M334,374 325,373 316,375M316,375 310,369 305,363M338,339 334,342 331,349M317,336 319,342 323,347M348,356 343,354 338,357M303,363 304,362 305,363M302,336 299,342 295,348M336,378 335,376 334,374M311,391 311,382 316,375M528,866 528,860M536,857 528,860M483,857 484,857 483,856M483,856 491,855 499,851 507,851 514,848M528,860 521,855 514,848M483,856 487,849 484,840 485,833 485,825 487,817M487,817 495,819 503,821 511,821 520,822M514,848 519,840 518,831 520,822M545,836 544,835 541,826M520,822 522,822 522,820M522,820 532,821 541,826M876,696 870,691 864,687M887,674 880,671 873,669 865,668M865,668 862,677 864,687M850,703 851,696 854,690M830,702 831,693 830,685M830,685 835,681 840,679M840,679 846,686 854,690M854,690 859,689 864,687M1057,628 1062,634 1070,637M1057,628 1063,621 1068,615 1073,608M1070,637 1075,636 1079,632M1079,632 1079,624 1082,616M1082,616 1078,612 1074,608M1073,608 1073,607 1074,608M1093,640 1098,633 1104,626M1093,640 1085,638 1079,632M1104,626 1102,621 1100,616M1100,616 1091,614 1082,616M706,755 704,763 702,769M706,755 709,756M810,678 807,685 806,692M810,678 813,677 816,677M830,685 822,683 816,677M806,692 813,700 818,708M817,224 817,232M817,232 809,234 803,239 795,240 787,241 781,245M772,227 768,232M768,232 769,236 772,241M772,241 776,242 781,245M827,249 821,241 817,232M815,277 810,279 806,282M798,279 793,273 789,266 788,258 784,252 781,245M744,223 752,226 760,229 768,232M742,279 746,272 753,267 757,260 761,252 767,247 772,241M879,344 876,352 868,357M879,344 879,336 877,329 873,323 873,315M858,355 852,349 850,341 845,334 839,328M858,355 863,355 868,357M839,328 840,325 840,322M840,322 848,316 855,308M873,315 864,312 855,308M912,360 907,367 901,373 898,381M912,360 907,352 907,343M907,343 897,345 888,344 879,344M898,381 890,380 884,374 877,373M877,373 874,364 868,357M908,339 907,341 907,343M896,307 888,310 881,313 873,315M835,374 831,371 826,369M835,374 840,367 848,365 851,358 858,355M817,347 823,343 828,337 834,333 839,328M810,305 818,309 824,316 832,318 840,322M853,287 855,294 857,301 855,308M973,381 968,384 969,390M973,381 971,374 965,369 963,362 959,356M969,390 963,393 957,399 950,401M936,365 935,373 936,381 934,389M936,365 945,362 952,356M934,389 942,394 950,401M952,356 955,359 959,356M1002,377 994,375 988,380 980,378 973,381M1002,377 1000,385 1002,393 1002,401 1003,408M986,419 981,413 978,405 972,398 969,390M1007,373 1008,367 1010,361M1007,373 1004,375 1002,377M975,337 970,343 963,349 959,356M946,421 949,411 950,401M946,421 946,424 949,426M933,329 939,335 942,343 948,349 952,356M912,360 920,361 928,363 936,365M1337,484 1330,480 1322,478 1315,476 1307,473M1329,452 1328,452 1320,450 1313,451M1313,451 1310,455 1307,459M1307,473 1307,466 1307,459M1249,450 1248,442 1246,435 1242,428M1249,450 1258,447 1265,442 1273,438M1242,428 1250,424 1260,421M1260,421 1264,427 1269,432 1273,438M1259,404 1250,403 1240,404M1259,404 1259,396 1259,388 1258,380M1240,404 1236,396 1232,389M1258,380 1256,381 1257,379M1232,389 1240,386 1249,383 1257,379M1251,343 1251,343 1252,352 1247,359M1263,357 1260,360 1252,363M1252,363 1249,362 1247,359M1242,428 1236,426 1231,424M1259,404 1261,406 1263,408M1240,404 1235,413 1230,423M1263,408 1264,415 1260,421M1231,424 1230,424 1230,423M1180,406 1189,407 1198,406 1206,408M1180,406 1176,408 1173,411M1200,425 1204,417 1206,408M1200,425 1195,428 1188,428M1173,411 1178,416 1183,422 1188,428M1258,380 1267,379 1276,379M1276,379 1279,372 1282,369M1257,379 1255,370 1252,363M1182,640 1181,633 1186,626 1185,619M1182,640 1191,642 1200,644M1193,619 1200,627 1203,636M1193,619 1191,617 1188,618M1188,618 1186,617 1185,619M1200,644 1200,639 1203,636M1182,640 1182,642 1181,640M1200,666 1201,660 1205,655M1200,666 1190,666 1180,663M1181,640 1179,645 1176,649M1180,663 1176,657 1176,649M1200,644 1201,650 1205,655M1316,519 1308,521 1301,525 1293,529M1316,519 1323,524 1328,531 1335,536M1330,549 1331,542 1335,536M1330,549 1321,549 1313,549 1305,551 1297,550M1297,550 1296,543 1293,536 1293,529M1349,530 1343,535 1335,536M1338,488 1333,494 1328,501 1323,507 1316,511M1316,511 1316,515 1316,519M1333,564 1341,566 1349,568 1357,572M1333,564 1331,557 1330,549M1291,667 1296,665 1301,664M1291,667 1285,659 1275,656M1301,664 1300,656 1297,649 1298,641M1275,656 1276,648 1276,641 1277,633M1298,641 1290,639 1283,637 1277,633M1279,686 1284,680 1286,672 1291,667M1269,687 1268,679 1265,671 1260,664M1260,664 1268,660 1275,656M1309,684 1309,682 1307,675 1309,668M1319,672 1316,671 1309,668M1301,664 1304,667 1309,667M1309,667 1308,668 1309,668M1276,632 1276,633 1277,633M1276,632 1278,627 1278,621M1278,621 1286,618 1291,612 1298,608M1298,641 1304,635 1311,631M1311,631 1307,623 1301,617 1298,608M1186,215 1180,212M1179,201 1180,207 1180,212M1179,201 1183,195 1184,194M1172,220 1177,217 1180,212M1205,224 1203,229 1203,238 1199,245M1199,245 1192,243 1185,244 1178,245M1170,193 1172,198 1179,201M1172,334 1167,328 1165,320M1172,334 1165,341 1162,351M1143,333 1150,338 1156,345 1162,351M1143,333 1142,329 1143,325M1165,320 1157,322 1150,324 1143,325M1172,334 1179,333 1187,334M1194,319 1192,327 1187,334M1193,319 1186,316 1179,312 1171,309M1165,320 1167,314 1171,309M1196,307 1196,304 1198,297M1198,297 1195,293 1192,290M1192,290 1185,296 1178,300 1169,301M1171,309 1171,304 1169,301M1162,353 1157,359 1152,365 1146,371M1162,353 1168,357 1175,359 1182,361M1182,361 1184,369 1185,377M1185,377 1178,382 1169,380 1162,383M1162,383 1154,376 1146,371M1162,351 1162,352 1162,353M1187,334 1188,342 1193,348M1193,348 1188,355 1182,361M1180,406 1183,397 1187,388 1188,379M1188,379 1187,377 1185,377M1162,405 1166,408 1170,411M1162,405 1160,398 1159,390 1162,383M1173,411 1172,411 1170,411M1212,327 1212,332 1208,340 1207,349M1230,332 1230,339 1228,346M1228,346 1218,346 1210,351M1210,351 1208,350 1207,349M1193,348 1200,349 1207,349M1198,297 1203,299M1241,359 1244,359 1247,359M1241,359 1234,353 1228,346M1140,372 1139,373 1139,371M1140,372 1141,380 1139,387 1137,395 1137,403M1139,371 1131,374 1124,377 1117,380M1117,380 1115,391 1115,401M1137,403 1128,404 1119,406M1115,401 1119,402 1119,406M1143,333 1138,340 1131,345 1126,351M1126,351 1130,358 1135,364 1139,371M1146,371 1143,369 1140,372M1162,405 1152,406 1143,407M1143,407 1140,405 1137,403M1096,368 1103,371 1111,374 1117,380M1107,346 1116,349 1126,351M1087,373 1084,379 1081,385M1081,385 1084,392 1088,398M1088,398 1097,398 1105,402 1115,401M1088,398 1086,403 1086,409M1115,423 1117,414 1119,406M1115,423 1105,423 1097,427M1110,234 1107,239 1102,242M1110,234 1109,227 1109,218 1106,211 1103,203M1102,242 1094,239 1087,235 1079,234M1103,203 1103,203M1084,214 1080,219 1076,226M1076,226 1077,230 1079,234M1138,245 1137,253 1135,261 1133,269M1126,235 1118,234 1110,234M1101,262 1100,252 1102,242M1101,262 1102,264 1104,266M1133,269 1126,268 1119,268 1112,266 1104,266M1114,202 1112,202 1103,203M1050,213 1056,217 1063,218 1069,223 1076,226M1046,282 1044,273 1043,265 1041,257 1040,249M1046,282 1054,280 1062,277 1070,279M1070,279 1073,273 1076,267M1076,267 1072,258 1067,250M1067,250 1058,246 1049,249 1040,249M1038,293 1042,287 1046,282M1038,247 1039,248 1040,249M1073,312 1074,313 1074,312M1074,312 1077,305 1077,297 1078,290M1078,290 1075,284 1070,279M1078,290 1086,290 1093,289 1101,288M1101,262 1093,264 1084,263 1076,267M1104,266 1104,273 1101,281 1101,288M1079,234 1073,242 1067,250M1202,250 1200,258 1197,266 1194,275M1202,250 1210,252 1211,252M1194,275 1203,276 1211,275 1215,276M1171,267 1178,270 1186,271 1193,276M1171,267 1171,261 1170,255M1199,245 1202,247 1202,250M1193,276 1193,274 1194,275M1193,276 1192,283 1192,290M1050,379 1056,383 1062,388M1050,379 1043,383 1036,385 1030,388M1062,388 1057,396 1055,405 1052,414M1030,388 1031,399 1031,409M1031,409 1038,412 1047,415M1052,414 1049,413 1047,415M1047,356 1047,364 1049,372 1050,379M1081,385 1072,388 1062,388M1007,373 1014,378 1021,385 1030,388M1066,421 1059,416 1052,414M1023,413 1026,410 1031,409M1041,440 1043,432 1044,423 1047,415M1057,446 1063,440 1070,436M1143,407 1141,414 1142,421 1142,428M1142,428 1137,434 1129,437M1115,423 1119,431 1126,437M1126,437 1128,437 1129,437M1089,445 1087,446 1089,446M1089,446 1097,450 1105,453 1113,455M1126,437 1121,442 1118,449 1113,455M991,688 1000,689 1008,691M991,688 991,685 990,683M990,683 994,676 998,669 1002,662M1008,691 1015,682 1021,675M1021,675 1019,669 1015,664M1015,664 1008,662 1002,662M1025,675 1031,679 1034,685M1025,675 1023,675 1021,675M1034,685 1035,694 1032,702M1014,705 1012,699 1008,691M1026,498 1030,505 1034,511 1042,515 1045,522M1026,498 1027,496 1026,494M1058,495 1051,491 1045,488M1058,495 1056,502 1053,509 1049,515 1047,522M1047,522 1046,521 1045,522M910,659 911,657 912,657M934,677 935,672 937,668M937,668 932,663 928,657M912,657 920,657 928,657M1089,446 1085,453 1083,462 1078,469M1108,473 1110,465 1114,458M1108,473 1100,476 1092,477M1113,455 1114,457 1114,458M1092,477 1085,473 1078,469M1058,495 1062,493 1065,493M1059,463 1066,468 1075,471M1065,493 1069,486 1071,478 1075,471M1078,469 1076,469 1075,471M784,470 788,468 792,469M784,470 787,479 788,487 788,495M808,483 805,488 807,494M788,495 797,494 807,494M970,489 972,494 970,500M970,489 962,486 955,481M955,481 948,489 944,498M970,500 964,505 959,512M944,498 952,505 959,512M983,479 976,484 970,489M950,467 953,474 955,481M934,498 939,498 944,498M934,498 931,495 927,493M927,493 927,488 926,483M855,430 847,428 838,426 829,426M855,430 859,423 863,415 866,408M842,394 837,398 833,405 827,410M842,394 851,394 858,397M827,410 829,418 829,426M858,397 861,403 866,408M849,460 856,455 864,452M864,452 866,449 866,447M866,447 860,438 855,430M827,429 827,427 829,426M835,374 839,380 840,387 842,394M801,399 808,401 814,405 821,407 827,410M877,373 873,380 866,384 862,391 858,397M791,432 792,433 794,434M895,465 887,468 879,468M895,465 900,470 905,474M905,474 899,482 897,492M879,468 879,473 877,478M877,478 881,484 884,491M897,492 891,492 884,491M864,452 869,457 876,461 879,468M866,447 875,443 883,437M883,437 891,444 899,450M899,450 896,458 895,465M925,451 920,446 915,444M916,474 911,474 905,474M915,444 907,446 899,450M927,493 919,497 911,502M911,502 907,497 900,498M900,498 898,496 897,492M845,469 851,474 855,480 858,487M858,487 864,483 870,481 877,478M858,487 858,487 858,487M858,487 863,493 865,500M865,500 871,500 876,501M876,501 880,496 884,491M887,519 890,511 895,504 900,498M887,519 886,517 884,517M876,501 879,509 884,517M580,752 583,752 584,754M580,752 578,744 573,738 571,731M584,754 592,749 600,745 606,738M571,731 573,728 575,726M575,726 583,725 592,726 600,726M600,726 602,733 606,738M555,732 563,731 571,731M546,757 549,760 552,764M552,764 559,761 566,758 574,757 580,752M588,763 586,759 584,754M614,742 610,740 606,738M574,709 574,718 575,726M603,714 596,710 589,705 583,699M603,714 603,721 600,726M629,738 631,735 632,732M614,707 608,710 603,714M614,707 623,711 630,718M630,718 631,725 632,732M614,671 621,675 624,684 630,689M614,671 610,680 603,686M603,686 609,694 615,702M630,689 622,696 615,702M614,707 614,705 615,702M584,689 594,689 603,686M561,293 561,292 561,292M561,293 553,298 545,302 537,306M561,292 555,288 551,282 545,278 540,272 536,266 530,261M537,306 529,302 522,298 514,294M514,294 509,285 508,275M530,261 521,264 511,265M508,275 508,269 511,265M568,329 566,322 567,314 565,307 563,300 561,293M572,287 566,289 561,292M532,328 536,321 535,314 537,306M543,244 538,249 536,257 530,261M543,244 551,244 558,247 565,248 572,247M498,319 501,312 508,308 510,300 514,294M502,277 508,275M509,262 502,260M509,262 509,264 511,265M524,189 528,196 535,201 542,206M537,215 530,218 523,218 517,224 510,224 503,226M537,215 539,210 542,206M497,210 498,210 499,217 500,224M500,224 502,224 503,226M560,199 551,204 542,206M509,262 508,254 504,248 505,240 505,233 503,226M543,244 541,237 541,229 538,222 537,215M498,224 500,224M675,540 678,546 682,551M702,550 701,551 700,552M700,552 691,552 682,551M729,549 732,553 734,557M734,557 728,561 726,569 721,575M721,575 712,572 702,570M700,552 703,561 702,570M734,557 739,556 743,560M721,575 723,583 725,592M743,560 749,566 753,573M753,573 747,579 743,586 736,591M725,592 731,591 736,591M886,557 881,554 876,550M886,557 892,550 900,547M890,526 893,533 897,540 900,547M890,526 882,533 875,541M875,541 877,545 876,550M637,544 633,552 633,561M637,544 629,541 622,537 614,533M614,533 609,537 605,543M605,543 608,549 611,555 617,561 618,568M618,568 624,562 633,561M590,545 597,543 605,543M617,570 618,569 618,568M748,457 750,466 749,475 751,484M748,457 756,456 765,453 773,453M784,470 778,462 773,453M784,470 778,476 772,482 764,484 757,488M757,488 754,486 751,484M736,448 742,453 748,457M734,488 743,486 751,484M780,438 777,445 773,453M784,470 784,470 784,470M760,498 752,503 749,513 742,519M760,498 758,493 757,488M130,544 125,548M130,544 136,547 137,548M130,540 129,542 130,544M175,553 169,557 167,561M148,409 156,409 164,409 171,412 179,412 186,415M148,409 147,401 144,394M144,394 151,391 157,387 163,384 168,378 174,375M174,375 177,382 179,390 182,397 185,405 188,412M188,412 189,415 186,415M186,426 185,420 186,415M141,425 144,417 148,409M207,366 199,369 191,369 184,369 176,369M214,402 205,405 196,407 188,412M176,369 176,372 174,375M143,355 152,353 160,356 169,357M143,355 140,347 138,339 134,332M161,322 163,330 168,338 172,346M161,322 153,322 146,324 139,325M172,346 171,351 169,357M139,325 136,328 134,332M168,311 166,317 161,322M188,320 188,328 191,335M191,335 185,339 177,341 172,346M133,311 135,317 139,325M101,334 104,338M104,338 111,335 119,336 127,334 134,332M110,399 103,393 97,388 88,385M110,399 117,393 125,390 133,386M133,386 132,378 130,370M130,370 122,368 115,364 107,360 100,356M88,385 89,376 87,367M100,356 94,362 87,367M110,418 112,409 110,399M70,406 77,399 83,392 88,385M144,394 138,391 133,386M176,369 173,363 169,357M143,355 137,362 130,370M104,338 101,347 100,356M60,405 57,402M87,367 84,365M455,632 449,628 442,625 435,621M429,659 425,652 426,645 423,638 422,631M422,631 428,625 435,621M465,599 457,598 450,601 443,605 435,603M435,621 435,612 435,603M444,569 440,575 435,581 429,586 426,593M435,603 430,599 426,593M402,579 406,586 411,592M402,579 408,573 415,568 419,560 425,554M411,592 419,592 426,593M393,649 391,646 393,643M422,631 416,631 411,628M393,643 399,639 406,635 411,628M411,592 405,599 403,608M403,608 406,615 405,623 411,628M482,768 479,768 478,771M516,785 513,777 512,768M516,785 509,788 502,791 497,796 491,800 484,802M478,771 479,779 481,787 483,794 484,802M487,817 483,813 481,809M446,819 449,816 451,811M451,811 458,811 466,808 473,809 481,809M516,785 519,790 525,793M525,793 525,802 522,811 522,820M481,809 482,806 484,802M401,762 406,756 410,750 416,744 420,737M401,762 406,770 408,778 411,785M411,785 418,787 426,786 433,784 441,787M427,737 424,737 420,737M427,737 434,741 440,747 446,751M446,751 449,759 451,766M451,766 448,774 444,780 441,787M407,722 414,729 420,737M370,757 372,759 373,762M373,762 380,758 387,762 394,761 401,762M400,804 405,811 408,818 413,825M400,804 405,798 408,792 411,785M451,811 446,804 444,795 441,787M452,705 445,710 443,718 437,725 432,731 427,737M476,732 471,737 464,740 458,744 452,748 446,751M478,771 469,769 460,765 451,766M385,855 382,852 377,851M374,855 377,851M337,807 337,805 337,795M337,795 345,793 352,790 359,787 365,784M359,831 365,832M365,832 370,825 374,818 379,812 384,805M365,784 370,792 378,797 384,805M327,785 330,788 337,795M373,762 369,768 368,776 365,784M377,851 371,846 370,838 365,832M400,804 392,805 384,805M264,617 270,620 277,619 285,619 291,623M285,648 292,644 297,637M291,623 294,630 297,637M580,540 581,532 582,523 582,515 584,506M551,515 560,513 567,509 575,507 583,506M584,506 583,506 583,506M614,533 616,525 615,517M584,506 592,508 600,510 607,515 615,517M633,484 627,488 619,490M649,514 641,515 633,515 625,515 617,516M619,490 619,499 619,507 617,516M649,539 642,540 637,544M615,517 617,517 617,516M335,555 337,552 336,549M335,555 338,562 344,567 348,572M336,549 340,547 343,543M348,572 357,569 366,569M366,569 369,559 368,548M343,543 351,545 360,544 368,548M221,316 217,316 213,319M221,316 228,320 232,325 238,330M213,319 211,326 210,333 208,340M238,330 235,337 231,343M231,343 222,346 213,349M213,349 211,344 208,340M231,295 231,297M231,297 228,303 224,309 221,316M201,310 208,313 213,319M191,335 199,337 208,340M247,358 241,353 236,348 231,343M261,347 262,345 261,344M261,344 254,340 250,333 244,327M244,327 241,329 238,330M209,364 213,357 213,349M300,539 307,538 314,534M300,539 294,532 289,524M314,534 319,525 323,516M289,524 291,517 293,510 294,503M294,503 304,505 314,503M323,516 319,509 314,503M312,571 320,566 328,561 335,555M312,571 308,563 301,558 296,551M296,551 298,545 300,539M336,549 330,542 322,538 314,534M261,526 268,524 275,524 282,524 289,524M278,558 287,555 296,551M343,543 343,534 344,525 346,516M346,516 338,517 331,517 323,516M283,488 288,496 294,503M311,471 317,478 325,483M325,483 321,490 317,496 314,503M348,497 349,505 349,513M348,497 341,493 336,487 329,483M346,516 348,515 349,513M329,483 327,482 325,483M558,424 551,420 545,415M558,424 565,419 572,416 579,411M545,415 544,406 544,397M544,397 552,392 561,387M579,411 576,402 573,392M573,392 567,390 561,387M557,436 550,440 546,445 539,449 534,454M557,436 557,430 558,424M524,420 531,419 538,417 545,415M523,386 530,390 537,393 544,397M552,363 554,372 557,380 561,387M579,411 581,408 579,411M589,373 585,381 579,386 573,392M476,427 471,423 463,422 458,417M476,427 475,436 468,442 466,450M466,450 462,453 458,452M447,430 453,424 458,417M447,430 451,437 454,444 456,452M456,452 456,453 458,452M456,405 456,411 458,417M491,421 483,422 476,427M490,460 481,458 474,452 466,450M456,480 457,471 457,462 458,452M435,427 441,429 447,430M432,454 425,448 422,441M432,454 439,450 448,451 456,452M439,486 432,479 422,474M432,454 427,460 425,467 422,474M347,459 351,461 354,463M347,459 346,455 343,451M343,451 348,443 355,436M354,463 362,461 369,461 377,458M355,436 361,438 367,434M367,434 375,440 382,448M382,448 379,453 377,458M360,485 358,477 358,470 354,463M360,485 354,491 348,497M329,483 332,476 338,471 343,465 347,459M331,447 337,449 343,451M343,412 346,420 351,428 355,436M375,412 372,419 369,426 367,434M387,446 385,447 382,448M231,297 236,301 243,304M249,301 243,304M244,327 248,325 249,321M243,304 246,312 249,321M273,332 269,323 261,319M273,332 275,334 278,332M278,332 285,326 290,320M290,320 287,316M261,319 262,316M261,344 268,340 273,332M249,321 255,321 261,319M284,346 281,339 278,332M291,320 290,321 290,320M554,776 562,778 571,780 578,785M554,776 548,782 545,789M545,789 548,796 554,803 557,810M578,785 578,792 576,795M557,810 558,810M552,764 552,770 554,776M578,785 579,785 578,785M525,793 535,792 545,789M541,826 547,821 552,815 557,810M892,660 888,656 886,651M886,651 886,645 889,640M909,641 910,649 912,657M909,641 903,639 898,635M898,635 893,636 889,640M886,651 877,653 868,656M868,656 867,646 865,637M865,637 867,632 872,629M889,640 879,636 872,629M1034,685 1041,683 1049,683M1056,700 1058,697M1058,697 1054,690 1049,683M1071,701 1070,697M1058,697 1064,695 1070,697M1043,661 1048,668 1053,674M1043,661 1037,665 1032,672 1025,675M1053,674 1050,678 1049,683M1058,600 1065,605 1073,608M1058,600 1052,604 1046,607M1057,628 1056,627 1056,628M1056,628 1051,622 1044,618M1046,607 1046,612 1044,618M962,687 955,692 950,697M962,687 970,688 978,691 985,695M977,710 983,707 984,701M977,710 970,710 962,710 961,710M950,697 954,703 955,710M985,695 985,698 984,701M946,696 949,695 950,697M937,668 942,665 948,664M948,664 956,671 962,679M962,679 961,683 962,687M962,679 969,673 975,668M975,668 980,673 984,679 990,683M991,688 988,692 985,695M978,712 977,710M992,709 990,708 984,701M953,656 952,661 948,664M953,656 960,656 967,654M975,668 975,664 975,660M967,654 971,658 975,660M1002,662 996,657 992,651M975,660 983,655 992,651M725,748 725,748 729,739M729,739 736,739 737,739M796,712 795,711 792,702M792,702 783,704 773,707M773,707 772,709 771,710M806,692 799,693 793,698M793,698 794,700 792,702M1292,424 1289,415 1287,405M1292,424 1302,428 1312,430M1319,407 1315,403 1309,398 1303,392M1303,392 1296,394 1290,398M1318,426 1312,430M1290,398 1288,401 1287,405M1263,408 1271,407 1279,407 1287,405M1273,438 1275,440 1278,440M1278,440 1283,435 1287,430 1292,424M1313,451 1314,440 1312,430M1307,459 1300,456 1294,452 1287,450 1281,448M1281,448 1279,444 1278,440M1276,379 1280,386 1285,392 1290,398M1211,398 1206,392 1199,389 1193,384 1188,379M1211,398 1218,392 1224,387M1224,387 1225,380 1222,374M1188,379 1197,375 1204,370 1213,367M1213,367 1217,371 1222,374M1188,379 1188,379 1188,379M1206,408 1208,407 1210,406M1210,406 1211,402 1211,398M1232,389 1228,387 1224,387M1210,406 1218,410 1223,417 1230,423M1241,359 1233,362 1229,369 1222,374M1210,351 1211,359 1213,367M1129,437 1136,444 1143,451M1114,458 1122,463 1131,466 1139,470M1143,451 1141,461 1139,470M1184,442 1176,441 1168,439 1161,434M1184,442 1185,446 1187,450M1187,450 1184,452 1183,455M1183,455 1174,456 1165,459M1165,459 1161,453 1157,447M1157,447 1158,440 1161,434M1161,434 1160,433 1161,434M1170,411 1168,419 1165,426 1161,434M1188,428 1187,436 1184,442M1142,428 1151,431 1161,434M1143,451 1150,448 1157,447M1298,374 1298,374 1301,381 1305,387M1319,374 1319,379M1319,379 1312,382 1305,387M1303,392 1303,389 1305,387M1322,379 1319,379M1144,720 1141,718M1140,719 1141,718M1172,711 1173,708M1173,708 1174,708M1203,677 1207,680M1203,677 1201,680M1193,619 1201,614 1209,612M1203,636 1210,631 1217,627M1217,627 1215,618 1209,612M1203,677 1201,671 1200,666M1234,677 1235,675M1205,655 1212,653 1220,652 1227,652M1227,652 1230,659 1231,668 1235,675M1260,664 1259,663 1257,662M1235,675 1242,670 1248,665 1257,662M1262,569 1267,563 1269,556M1262,569 1270,573 1277,578 1282,585M1269,556 1277,555 1285,555 1294,555M1294,555 1297,562 1296,569 1298,576M1298,576 1295,580 1294,585M1282,585 1288,585 1294,585M1333,564 1331,568 1328,570M1328,570 1321,571 1313,573 1306,573 1298,576M1297,550 1294,552 1294,555M1328,570 1329,577 1328,585 1329,592 1329,600M1329,600 1320,602 1310,599 1301,601M1301,601 1299,592 1294,585M1264,604 1269,609 1271,617 1278,621M1264,604 1271,599 1277,592 1282,585M1298,608 1299,604 1301,601M1262,569 1253,565 1244,564M1262,569 1258,575 1256,583 1252,589M1244,564 1236,569 1234,578M1252,589 1245,586 1238,587M1234,578 1236,582 1238,587M1264,604 1261,604 1258,603M1258,603 1254,596 1252,589M1262,569 1261,568 1262,569M1235,552 1229,556 1223,560 1218,566M1235,552 1239,559 1244,564M1234,578 1227,576 1219,575M1219,575 1217,571 1218,566M1235,548 1235,550 1235,552M1235,548 1238,543 1240,537M1269,556 1264,547 1263,537M1263,537 1255,538 1248,537 1240,537M1293,529 1292,526 1289,526M1289,526 1281,530 1272,531 1265,534M1263,537 1264,536 1265,534M1316,511 1312,504 1304,499 1298,493M1289,526 1285,518 1284,509M1284,509 1288,504 1294,499 1298,493M1307,473 1302,478 1298,482M1298,493 1300,488 1298,482M1309,667 1314,660 1321,654 1326,647M1326,647 1334,649 1335,649M1311,631 1314,633 1317,632M1326,647 1322,639 1317,632M1158,476 1161,467 1165,459M1158,476 1164,479 1170,482M1183,455 1185,462 1188,469 1187,477M1187,477 1179,479 1170,482M1171,267 1163,271 1158,279M1169,301 1164,298 1161,293M1158,279 1160,286 1161,293M1133,269 1133,271 1134,270M1158,279 1151,275 1142,275 1134,270M1108,473 1112,479 1116,486M1116,486 1122,484 1129,486M1139,470 1139,472 1141,474M1129,486 1135,480 1141,474M1158,476 1155,476 1151,477M1151,477 1146,476 1141,474M1058,600 1058,594 1057,588M1074,608 1077,602 1080,595 1084,589M1084,589 1081,588 1084,586M1057,588 1064,582 1072,577M1084,586 1077,583 1072,577M1029,628 1033,634 1036,641 1040,647M1029,628 1021,633 1012,634M1012,634 1017,643 1021,652M1040,647 1031,650 1021,652M1056,628 1052,635 1047,641 1043,648M1043,648 1042,645 1040,647M1044,618 1038,621 1031,623M1031,623 1032,626 1029,628M1045,650 1044,649 1043,648M1045,650 1046,656 1043,661M1015,664 1019,659 1021,652M966,544 976,547 986,545M966,544 971,535 974,525M986,545 988,538 993,533M974,525 977,524 981,523M981,523 986,529 993,533M959,512 957,512 959,512M959,512 966,518 974,525M970,500 979,503 988,507M981,523 983,515 988,507M998,489 995,497 994,505M994,505 991,507 988,507M1026,498 1021,505 1014,511 1010,519M1045,522 1036,526 1026,529M1026,529 1017,525 1010,519M994,505 999,510 1005,514 1010,519M993,533 997,532 1001,531M1001,531 1006,525 1010,519M1010,519 1010,518 1010,519M934,498 934,508 931,516M959,512 955,519 949,524M949,524 944,522 939,525M931,516 935,521 939,525M911,502 913,511 914,519M931,516 922,517 914,519M887,519 889,521 890,523M890,523 897,523 904,523 912,522M914,519 912,521 912,522M816,677 819,668 822,659M840,679 842,678 841,676M822,659 828,659 833,655M833,655 835,662 840,668 841,676M865,668 864,666 863,664M841,676 849,673 856,669 863,664M868,656 864,658 863,664M863,664 863,664 863,664M774,506 774,514 770,521 767,528 764,535M774,506 777,508 779,506M779,506 785,511 790,516M790,516 786,524 788,532 785,539M785,539 779,540 774,543M774,543 769,543 766,539M764,535 764,538 766,539M760,498 767,503 774,506M742,523 749,527 756,532 764,535M788,495 783,501 779,506M805,546 805,547 804,547M805,546 803,538 808,531 810,524 810,516M810,516 800,517 790,516M804,547 795,542 785,539M799,573 800,564 804,556 804,547M799,573 792,569 784,565 776,563M776,563 774,553 774,543M743,560 748,553 755,550 760,544 766,539M761,576 756,575 753,573M761,576 768,569 776,563M807,494 810,498 813,502M810,516 811,515 813,514M813,502 811,508 813,514M830,474 830,483 831,492M813,502 821,495 831,492M858,487 852,492 846,495 841,501M831,492 836,496 841,501M885,413 888,405 893,399 895,391 899,383M885,413 887,416 889,420M889,420 897,420 905,419 912,422M916,395 916,403 917,410 917,418M916,395 910,392 905,387 899,383M917,418 915,420 912,422M898,381 899,382 899,383M866,408 876,409 885,413M883,437 884,427 889,420M915,444 912,437 916,429 912,422M946,421 939,419 932,420 924,418 917,418M934,389 925,391 916,395M860,511 864,516 866,521M860,511 851,512 842,513M842,513 841,515 839,517M839,517 841,525 848,529 853,535M866,521 865,527 862,532M862,532 858,536 853,535M865,500 863,506 860,511M884,517 875,519 866,521M841,501 841,507 842,513M813,514 822,515 829,520M829,520 834,518 839,517M890,523 890,525 890,526M875,541 870,534 862,532M810,678 807,677 805,675M822,659 814,655 808,650M808,650 804,655 800,660M805,675 803,667 800,660M653,756 659,749 664,740M679,766 681,757 686,750M664,740 671,744 678,748 686,750M703,751 703,754 706,755M703,751 695,749 687,749M687,749 686,749 686,750M582,665 583,663 585,662M614,671 614,669 614,667M614,667 607,665 599,667 592,665 585,662M574,637 582,641 589,646M585,662 587,654 589,646M591,620 595,627 600,633M600,633 598,636 598,640M589,646 593,642 598,640M749,720 749,717M759,711 759,711M749,717 754,714M757,712 759,711M734,672 728,670 722,665 716,662M734,672 735,677 734,682M734,682 726,684 718,688M718,688 714,681 711,675M716,662 710,667 711,675M733,650 724,654 715,660M733,650 735,652 738,652M715,660 715,661 716,662M744,663 741,657 738,652M744,663 739,667 734,672M703,751 705,745 709,739 710,732M729,739 727,735 725,732M725,732 718,731 710,732M749,717 741,715 733,713M725,732 730,723 733,713M752,688 756,695 755,703 759,711M752,688 747,688 742,688M742,688 739,696 735,703 731,710M733,713 732,711 731,710M689,727 690,735 688,742 687,749M689,727 697,727 705,726M710,732 709,727 705,726M727,631 732,640 733,650M727,631 727,630 728,630M738,652 743,647 748,642M748,642 749,638 747,634M728,630 737,633 747,634M800,577 805,584 809,592 815,598M800,577 796,584 788,587 783,593M796,610 790,605 784,600M796,610 806,606 815,601M815,601 814,600 815,598M783,593 784,596 784,600M825,571 817,575 808,574 800,575M825,571 828,581 835,589M800,575 799,576 800,577M835,589 829,593 822,596 815,598M767,589 775,590 783,593M767,589 763,583 761,576M800,575 800,574 799,573M727,631 720,634 713,635M715,660 713,657 710,655M713,635 709,644 710,655M301,670 307,663 312,656M297,637 300,638 304,639M304,639 308,648 312,656M334,667 331,663 328,658M328,658 320,657 312,656M560,477 566,481 572,486 579,490 583,496M560,477 565,472 569,465 576,461 580,455M583,496 589,489 595,483 601,478M580,455 581,454 582,454M582,454 588,459 594,465 601,470M601,470 603,474 601,478M553,478 556,476 560,477M583,506 584,501 583,496M557,436 563,441 568,446 574,450 580,455M619,490 614,485 607,482 601,478M594,433 589,440 585,447 582,454M622,453 615,458 608,465 601,470M412,538 408,531 405,522M412,538 404,540 399,545 393,550M405,522 397,521 389,522M389,522 383,529 375,536M393,550 384,546 375,541M375,536 375,539 375,541M422,543 418,540 412,538M435,508 427,508 420,510 412,509M412,509 410,516 405,522M396,577 394,568 390,560 393,550M396,577 398,579 402,579M380,504 385,512 389,522M380,504 371,506 364,511 356,515M356,515 361,520 366,526 372,530 375,536M396,577 387,578 378,580M378,580 371,576 366,569M368,548 371,544 375,541M356,515 353,514 349,513M384,488 385,483 386,478M384,488 384,489 385,490M385,490 395,491 405,495M386,478 393,475 399,470 406,466M405,495 410,488 419,483 422,474M406,466 413,472 422,474M360,485 368,485 376,486 384,488M377,458 380,465 383,471 386,478M380,504 383,497 385,490M412,509 409,502 405,495M402,450 405,457 406,466M422,474 422,475 422,474M1188,618 1190,611 1190,604M1185,619 1179,618 1174,616M1190,604 1182,600 1177,593M1177,593 1175,593 1174,594M1174,616 1175,606 1173,596M1174,594 1174,595 1173,596M983,637 988,643 992,648M983,637 984,629 987,621M992,648 997,642 1003,638 1008,633M987,621 996,624 1006,626M1006,626 1008,629 1008,633M967,654 967,645 968,636M968,636 975,639 983,637M992,651 992,650 992,648M1012,634 1010,634 1008,633M1011,608 1015,606 1018,605M1011,608 1006,616 1006,626M1031,623 1027,617 1023,611 1018,605M1224,628 1229,620 1237,613M1224,628 1226,637 1232,645M1232,645 1240,643 1249,642M1244,614 1241,613 1237,613M1244,614 1248,621 1252,628 1254,636M1254,636 1249,638 1249,642M1217,627 1220,626 1224,628M1227,652 1228,647 1232,645M1257,662 1252,656 1252,649 1249,642M1258,603 1250,608 1244,614M1227,601 1232,607 1237,613M1227,601 1233,594 1238,587M1276,632 1269,633 1261,635 1254,636M1235,548 1227,546 1220,546 1212,543 1205,542M1218,566 1212,558 1202,554M1202,554 1203,548 1205,542M1223,523 1217,529 1210,533 1203,537M1223,523 1229,525 1235,526M1235,526 1239,531 1240,537M1205,542 1204,539 1203,537M1281,448 1278,456 1273,464M1298,482 1290,480 1282,479M1273,464 1278,472 1282,479M1265,534 1262,526 1264,517 1260,509M1235,526 1240,518 1243,510M1260,509 1251,509 1243,510M1284,509 1275,506 1266,502M1260,509 1264,507 1266,502M1282,479 1277,485 1271,488 1265,493M1266,502 1266,497 1265,493M1337,606 1337,610 1336,613M1337,606 1345,604 1352,601 1356,599M1336,613 1340,619 1346,623 1347,631 1347,631M1329,600 1332,604 1337,606M1317,632 1324,626 1331,621 1336,613M1197,450 1205,456 1210,464M1197,450 1202,443 1209,437M1210,464 1217,457 1224,449M1224,449 1222,444 1221,437M1221,437 1215,438 1209,437M1200,425 1205,431 1209,437M1187,450 1192,449 1197,450M1231,424 1226,431 1221,437M1187,477 1193,479 1199,482M1210,464 1210,470 1211,475M1211,475 1205,479 1199,482M1170,482 1173,491 1172,499M1172,499 1178,501 1183,504M1183,504 1190,501 1198,498M1199,482 1198,490 1198,498M1141,323 1143,313 1143,304M1141,323 1134,321 1126,320 1118,321 1111,318M1143,304 1134,299 1126,293M1126,293 1119,299 1111,302M1111,302 1111,307 1109,313M1111,318 1110,315 1109,313M1143,325 1143,324 1141,323M1161,293 1151,298 1143,304M1105,341 1109,333 1109,325 1111,318M1134,270 1132,278 1130,286 1126,293M1101,288 1104,296 1111,302M1074,312 1081,310 1088,314 1095,313 1102,314 1109,313M900,547 904,546 907,547M912,522 913,528 915,533M907,547 912,541 915,533M939,525 934,530 932,537M915,533 924,535 932,537M898,635 902,627 900,618M886,610 892,610 897,614M886,610 880,616 872,620M872,620 871,624 872,629M900,618 898,616 897,614M881,573 882,582 885,590M881,573 872,571 863,574M862,593 865,584 861,576M862,593 872,592 882,594M882,594 882,591 885,590M863,574 861,574 861,576M887,564 885,569 881,573M887,564 897,568 905,573M901,587 903,580 905,573M901,587 893,589 885,590M886,557 889,561 887,564M876,550 870,554 862,556M862,556 866,565 863,574M886,610 884,602 882,594M897,614 903,605 909,597M901,587 905,592 909,597M820,613 818,607 815,601M820,613 815,620 811,627M796,610 798,615 796,620M811,627 803,625 796,620M784,600 781,606 777,612 772,618M772,618 779,624 786,629M796,620 792,625 786,629M865,637 859,640 852,637M863,664 857,659 850,656 845,651M852,637 849,644 845,651M808,650 807,647 807,643M833,655 835,655 834,653M807,643 809,639 813,635M813,635 821,636 829,638M829,638 831,645 834,653M845,651 840,650 834,653M744,663 747,665 751,664M752,688 755,686 757,684M742,688 738,686 734,682M757,684 754,674 751,664M748,642 754,644 759,647M759,647 756,654 755,661M751,664 752,661 755,661M664,740 665,736 663,733M689,727 686,725 683,723M683,723 676,725 669,729 663,733M632,732 640,730 649,729 657,726M657,726 659,730 663,733M662,692 662,699 659,707M662,692 655,686 649,680M634,689 641,686 645,680M634,689 637,698 642,706M642,706 650,705 657,709M645,680 647,679 649,680M657,709 657,707 659,707M689,702 685,706 682,711M689,702 683,698 679,691 674,687M674,687 668,689 662,692M682,711 675,710 667,708 659,707M630,718 635,711 642,706M630,689 632,690 634,689M657,726 657,718 657,709M683,723 684,717 682,711M614,667 615,666 616,665M598,640 606,646 614,652M616,665 614,658 614,652M645,680 638,672 634,663M616,665 625,664 634,663M717,690 720,698 727,702 730,709M717,690 709,696 700,701M730,709 722,712 715,712 707,712M700,701 704,706 707,712M718,688 717,688 717,690M731,710 731,709 730,709M696,679 697,686 696,693 696,700M696,679 703,675 711,675M696,700 698,700 700,701M705,726 706,719 707,712M696,700 693,701 689,702M748,612 750,620 752,628M748,612 750,609 752,606M755,605 763,612 771,618M755,605 754,606 752,606M771,618 766,622 763,629M752,628 757,627 763,629M728,630 729,624 730,618M730,618 739,616 748,612M747,634 749,631 752,628M767,589 762,597 755,605M772,618 772,618 771,618M736,591 741,597 748,600 752,606M759,647 763,644 768,643M768,643 765,636 763,629M853,603 850,602 846,601M853,603 855,607 858,612M846,601 841,606 835,611 830,616M858,612 852,620 845,628M830,616 832,622 836,627M845,628 841,630 836,627M835,589 842,593 846,601M835,589 841,580 849,574M849,574 855,577 861,576M862,593 856,596 853,603M872,620 865,615 858,612M835,589 835,589 835,589M820,613 825,615 830,616M852,637 848,633 845,628M813,635 811,631 811,627M829,638 831,632 836,627M849,544 851,547 852,551M849,544 842,543 835,545 827,543M852,551 846,556 843,563M843,563 836,564 830,562M830,562 826,555 824,547M824,547 824,544 827,543M853,535 852,540 849,544M862,556 857,554 852,551M829,520 829,528 826,536 827,543M849,574 846,569 843,563M825,571 826,566 830,562M805,546 814,549 824,547M696,679 691,675 686,671M710,655 703,656 697,655M697,655 691,663 686,671M674,687 677,679 680,672M686,671 683,672 680,672M622,586 627,590 632,592M602,603 609,607 614,612M632,592 629,599 628,607M614,612 621,610 628,607M600,633 606,628 614,626M614,612 614,619 614,626M614,652 621,647 625,641 630,635M614,626 622,630 630,635M699,592 692,598 685,606M699,592 705,596 713,596 719,599M719,602 719,601 719,599M719,602 714,608 711,615 702,617 698,624M685,606 690,615 694,624M698,624 696,622 694,624M702,570 699,574 695,578M725,592 723,596 719,599M695,578 697,585 699,592M730,618 724,611 719,602M713,635 704,631 698,624M682,636 687,642 692,648 697,655M682,636 688,630 694,624M682,551 678,557 675,564M695,578 689,577 682,577M675,564 676,572 682,577M655,543 657,550 655,558 658,565M675,564 667,566 658,565M633,561 639,566 645,569 651,573M658,565 656,570 651,573M304,639 311,636 317,630 323,625 330,622M328,658 333,650 334,641 338,633M330,622 334,628 338,633M360,658 360,649 357,640M338,633 347,639 357,640M393,643 386,638 380,633 374,628M357,640 364,632 374,628M403,608 396,609 389,611 382,614 375,615M374,628 373,621 375,615M378,580 377,589 372,596 368,603M375,615 370,609 368,603M1077,677 1071,673 1065,671M1077,677 1081,673 1087,672M1087,672 1082,664 1082,654M1065,671 1064,662 1063,653M1082,654 1075,653 1069,649M1069,649 1066,651 1063,653M1070,697 1073,691 1075,684 1077,677M1053,674 1059,672 1065,671M1089,673 1088,674 1087,672M1089,673 1093,680 1096,687 1099,694M1099,694 1091,699 1086,702M1093,642 1099,647 1105,652M1093,642 1087,647 1082,654M1089,673 1095,670 1101,668M1101,668 1102,660 1105,652M1045,650 1054,649 1063,653M1093,640 1094,641 1093,642M1070,637 1066,643 1069,649M1100,616 1099,614 1101,614M1084,589 1091,595 1099,600M1101,614 1100,607 1099,600M1111,629 1106,630 1104,626M1111,629 1119,626 1126,621M1101,614 1109,612 1115,608 1123,606M1126,621 1124,614 1123,606M1139,714 1133,718M1139,714 1137,712 1139,710M1139,710 1132,704 1125,698 1119,692M1110,705 1110,697M1110,697 1115,696 1119,692M1141,718 1142,715 1139,714M1099,694 1105,696 1110,697M1124,678 1120,685 1119,692M1124,678 1125,676 1123,676M1123,676 1116,674 1108,670 1101,668M1173,708 1168,704 1164,700M1139,710 1141,705 1146,702M1164,700 1155,700 1146,702M1215,579 1212,579 1210,580M1215,579 1217,586 1219,593 1222,600M1210,580 1206,587 1201,592M1211,605 1217,603 1222,600M1211,605 1206,602 1202,598M1202,598 1200,595 1201,592M1227,601 1225,600 1222,600M1219,575 1217,577 1215,579M1209,612 1211,608 1211,605M1190,604 1196,602 1202,598M1177,593 1183,590 1188,584M1188,584 1195,588 1201,592M1199,557 1191,560 1182,560M1199,557 1200,565 1200,574M1189,580 1194,577 1200,574M1189,580 1183,574 1179,567M1179,567 1181,564 1182,560M1202,554 1200,554 1199,557M1210,580 1204,577 1200,574M1188,584 1190,582 1189,580M1165,583 1171,587 1174,594M1165,583 1168,578 1167,572M1167,572 1173,571 1179,567M1167,572 1161,566 1155,562M1154,558 1156,560 1155,562M1154,558 1159,552 1167,550 1171,544M1182,560 1177,553 1173,544M1171,544 1171,545 1173,544M1203,537 1200,535 1198,533M1173,544 1181,540 1190,538 1198,533M1183,504 1184,512 1182,520M1198,498 1202,501 1204,506M1204,506 1202,514 1202,522 1196,529M1182,520 1188,526 1196,529M1223,523 1218,516 1216,507M1216,507 1210,506 1204,506M1196,529 1197,531 1198,533M1254,483 1247,487 1240,490 1233,494M1254,483 1250,475 1252,466M1252,466 1249,463 1245,460M1223,480 1225,487 1230,493M1223,480 1228,475 1234,470 1239,465 1244,460M1245,460 1245,458 1244,460M1233,494 1232,493 1230,493M1265,493 1259,489 1254,483M1243,510 1239,502 1233,494M1273,464 1266,465 1259,466 1252,466M1249,450 1246,454 1245,460M1211,475 1217,477 1223,480M1216,507 1223,500 1230,493M1224,449 1231,452 1236,459 1244,460M1093,520 1086,518 1082,512M1093,520 1101,519 1108,516 1115,514M1094,494 1087,500 1081,507M1094,494 1102,495 1108,497M1081,507 1082,509 1082,512M1108,497 1112,505 1115,514M1092,477 1093,486 1094,494M1065,493 1073,501 1081,507M1116,486 1112,491 1108,497M1047,522 1049,522 1049,525M1071,523 1064,524 1056,525 1049,525M1071,523 1077,518 1082,512M1071,570 1071,565 1075,562M1071,570 1062,566 1053,563M1053,563 1054,554 1053,546M1053,546 1062,546 1070,546M1075,562 1073,554 1070,546M1071,523 1075,531 1076,540M1049,525 1050,533 1050,542M1053,546 1052,544 1050,542M1070,546 1075,545 1076,540M1129,486 1130,494 1132,501M1115,514 1117,514 1118,515M1118,515 1126,509 1132,501M1151,477 1151,487 1151,496 1149,505M1132,501 1141,505 1149,505M1057,588 1050,583 1042,579M1072,577 1071,574 1071,570M1053,563 1048,569 1042,571M1042,579 1041,575 1042,571M1046,607 1040,603 1035,597 1030,594M1042,579 1036,586 1030,594M1018,605 1022,599 1027,594M1030,594 1028,593 1027,594M1024,550 1017,549 1011,549M1024,550 1026,550 1027,552M1027,552 1027,557 1029,561M1029,561 1023,568 1016,573M1011,549 1004,555 997,562M997,562 1001,568 1010,568 1016,573M1026,529 1025,539 1024,550M1001,531 1007,539 1011,549M1050,542 1042,545 1034,547 1027,552M1042,571 1035,567 1029,561M1016,582 1021,588 1027,594M1016,582 1016,577 1016,573M986,545 992,552 993,561M997,562 995,560 995,562M995,562 994,561 993,561M909,641 914,636 921,634M900,618 909,619 919,619M919,619 919,627 921,634M928,657 931,648 935,639M921,634 928,636 935,639M936,551 943,557 947,565 951,572M936,551 943,547 952,547 959,543M965,545 966,554 966,562M965,545 962,542 959,543M966,562 959,568 951,572M949,524 953,530 956,536 959,543M932,537 934,544 936,551M936,551 936,551 936,551M966,544 966,545 965,545M977,568 986,566 993,561M977,568 971,566 966,562M909,597 911,597 914,597M919,619 921,615 925,613M914,597 920,605 925,613M909,572 917,573 924,577M909,572 911,562 912,553M924,577 927,569 930,562 932,554M912,553 922,553 932,554M927,580 926,578 924,577M927,580 927,583 926,586M905,573 907,572 909,572M926,586 920,592 914,597M907,547 910,550 912,553M936,551 933,552 932,554M951,575 950,574 951,572M951,575 943,576 935,578 927,580M800,660 794,659 788,658M807,643 800,641 793,640 786,638M788,658 785,648 786,638M786,629 787,633 786,637M768,643 768,645 769,643M769,643 777,640 786,637M786,638 786,638 786,637M628,607 635,614 639,623M630,635 633,634 635,634M639,623 636,628 635,634M676,602 672,596 672,588M676,602 666,605 659,612M672,588 665,586 658,583 651,580M659,612 658,613 658,612M658,612 657,603 648,598 644,589M644,589 648,585 651,580M685,606 680,605 676,602M682,577 678,583 672,588M651,573 651,577 651,580M632,592 638,591 644,589M639,623 646,621 652,616 658,612M330,622 338,616 341,607 348,601M330,622 325,615 317,612 313,604 306,600M312,583 320,583 327,585 334,588 342,587M312,583 309,589 305,593M342,587 343,595 348,601M305,593 306,596 306,600M330,622 329,622 330,622M368,603 358,604 348,601M291,623 295,618 299,612 303,606 306,600M312,571 311,577 312,583M348,572 344,579 342,587M275,589 282,590 289,593 297,594 305,593M1123,676 1125,668 1126,661M1105,652 1111,651 1116,648M1126,661 1120,655 1116,648M1111,629 1114,636 1118,643M1118,643 1116,645 1116,648M1121,593 1118,591 1116,588M1121,593 1129,591 1136,588 1142,583M1116,587 1118,581 1120,574 1122,567M1116,587 1116,587 1116,588M1141,575 1133,572 1126,566M1141,575 1141,579 1142,583M1126,566 1125,568 1122,567M1099,600 1106,592 1116,588M1123,606 1125,605 1124,603M1124,603 1121,598 1121,593M1084,586 1089,580 1097,576M1097,576 1103,579 1109,583 1116,587M1136,547 1138,546 1141,547M1136,547 1133,554 1129,560 1126,566M1141,547 1148,552 1154,558M1155,562 1149,570 1141,575M1165,583 1157,587 1147,588M1147,588 1144,586 1142,583M1126,621 1129,622 1130,624M1118,643 1125,642 1131,639M1130,624 1130,631 1131,639M1126,661 1134,658 1140,652M1140,652 1139,648 1138,643M1131,639 1134,641 1138,643M1173,596 1165,599 1158,604M1147,588 1145,591 1147,595M1147,595 1152,600 1158,604M1124,603 1132,602 1139,604M1147,595 1143,600 1139,604M1142,678 1142,680 1144,681M1142,678 1146,672 1146,665 1149,658M1144,681 1155,681 1165,681M1155,657 1159,663 1165,668 1169,673M1155,657 1152,658 1149,658M1169,673 1168,676 1168,678M1168,678 1168,680 1165,681M1124,678 1133,679 1142,678M1146,702 1144,695 1144,688 1144,681M1140,652 1144,657 1149,658M1164,700 1165,690 1165,681M1160,651 1168,651 1176,649M1160,651 1157,653 1155,657M1180,663 1175,669 1169,673M1188,688 1185,687 1175,685 1168,678M1096,540 1094,540 1093,542M1096,540 1104,540 1112,541M1093,542 1093,550 1091,558M1112,541 1112,551 1113,561M1113,561 1105,563 1098,566M1098,566 1095,562 1091,558M1093,520 1094,530 1096,540M1076,540 1084,542 1093,542M1121,536 1122,529 1122,523M1121,536 1116,538 1112,541M1118,515 1120,520 1122,523M1075,562 1083,560 1091,558M1121,536 1129,541 1136,547M1122,567 1116,566 1113,561M1097,576 1098,571 1098,566M1161,507 1166,515 1169,524M1161,507 1156,508 1150,506M1150,506 1147,514 1144,522M1144,522 1148,526 1151,531M1151,531 1158,531 1165,532M1165,532 1166,528 1169,524M1172,499 1167,503 1161,507M1182,520 1177,525 1169,524M1149,505 1150,505 1150,506M1122,523 1130,522 1137,521 1144,522M1141,547 1145,539 1151,531M1171,544 1170,537 1165,532M1011,608 1007,601 999,601M1016,582 1007,584 998,587M998,587 1000,594 999,601M995,562 995,570 995,577 996,585M998,587 997,586 996,585M977,568 978,577 977,585M996,585 987,587 977,585M951,575 952,582 956,588M977,585 974,589 971,593M956,588 963,591 971,593M783,662 779,662 774,661M783,662 786,670 787,679M770,664 767,673 768,683M770,664 771,662 774,661M784,682 787,682 787,679M784,682 779,684 773,685M773,685 771,683 768,683M788,658 785,659 783,662M769,643 772,652 774,661M805,675 796,678 787,679M757,684 763,683 768,683M755,661 762,664 770,664M793,698 787,691 784,682M773,707 773,699 771,692 773,685M679,637 675,645 672,653 668,661M679,637 674,635 668,632M668,632 660,635 652,640 645,644M662,662 665,660 668,661M662,662 657,657 650,653 645,647M645,647 643,646 645,644M682,636 681,637 679,637M680,672 674,666 668,661M659,612 663,618 664,626 668,632M635,634 640,639 645,644M649,680 655,674 659,668 662,662M634,663 640,655 645,647M1145,621 1149,627 1148,634M1145,621 1146,620 1146,619M1146,619 1151,617 1157,616M1157,616 1161,618 1166,620M1166,631 1161,634 1157,638M1166,631 1168,626 1166,620M1157,638 1153,635 1148,634M1130,624 1138,621 1145,621M1138,643 1142,638 1148,634M1139,604 1143,611 1146,619M1158,604 1157,610 1157,616M1174,616 1170,619 1166,620M1181,640 1175,634 1166,631M1160,651 1157,645 1157,638M987,621 987,620 987,620M999,601 995,602 992,604M987,620 990,612 992,604M971,593 972,594 973,596M992,604 986,600 979,600 973,596M968,636 966,635 965,633M987,620 978,619 969,616M965,633 965,624 969,616M953,656 952,648 947,642 944,635M965,633 958,633 951,634 944,635M973,596 970,605 968,614M969,616 970,615 968,614M935,639 939,638 944,635M944,635 943,637 944,635M928,613 934,607 938,600M928,613 936,619 943,626M943,626 948,619 952,612M952,612 948,606 946,600M938,600 942,599 946,600M926,586 931,594 938,600M925,613 926,611 928,613M944,635 943,630 943,626M968,614 960,615 952,612M956,588 951,594 946,600"/>
</g>
<path fill="none" stroke="#4e4e4e" stroke-width="2.6" stroke-linejoin="round" d="M352,344 L354,352 L364,356 L358,363 L356,369 L362,377 L364,382 L359,386 L347,383 L342,388 L339,400 L330,395 L315,395 L297,400 L283,404 L277,414 L268,425 L266,433 L288,436 L296,438 L297,451 L303,466 L312,481 L317,491 L309,500 L306,512 L303,520 L308,550 L304,580 L298,597 L301,627 L304,647 L301,674 M304,647 L321,647 L341,652 L362,661 L382,665 L403,667 L409,663 L412,652 L424,646 L445,642 L453,636 L462,631 L468,638 L481,640 L490,649 L494,653 L503,642 L514,634 L527,625 L535,621 L548,614 L557,627 L565,642 L574,638 L587,625 L596,618 L613,612 L624,605 L635,597 L643,590 L639,579 L648,582 L656,573 L669,577 L682,571 L686,555 L702,553 M587,625 L596,634 L598,651 L591,664 L578,677 L563,668 L552,660 L544,666 L540,677 L544,690 L548,692 L544,707 L542,718 L533,729 L514,735 L507,746 L501,755 L490,759 L475,755 L475,765 L490,768 L505,763 L516,763 L522,780 L527,790 L533,805 L538,820 L543,843 M493,290 L500,300 L513,321 L527,347 L530,368 L544,388 L544,393 L551,400 L553,418 L544,422 L533,424 L529,433 L538,447 L542,451 L551,444 L564,438 L578,431 L591,424 L600,422 L618,418 L626,422 L633,433 L635,447 L638,458 L638,473 L644,484 L651,500 L658,506 L662,518 L671,529 L684,526 L693,529 L700,540 L702,553 L713,558 L724,562 L737,562 L746,553 L760,549 L766,553 L769,564 L780,573 L786,586 L789,620 L799,626 L810,632 L820,641 L830,645 L841,651 L851,660 L860,664 L875,667 L893,673 L902,682 L907,690 L906,706 M794,232 L806,244 L814,281 L819,294 L804,314 L794,334 L793,398 L806,404 L804,421 L818,434 L811,450 L828,470 L835,483 L848,500 L835,514 L814,524 L798,534 L786,549 L780,573 M848,500 L870,512 L891,517 L905,490 L930,472 L950,462 L970,452 L985,460 L1000,465 L1015,460 L1030,445 L1050,445 L1067,455 L1080,455 L1092,452 L1104,444 L1110,437 L1113,420 L1112,409 L1114,408 L1121,394 L1131,381 L1137,368 L1151,354 L1167,344 L1177,334 L1181,321 L1191,316 M1268,364 L1254,374 L1253,389 L1255,403 L1251,417 L1248,432 L1247,446 L1239,448 L1237,458 L1234,470 L1222,481 L1205,490 L1194,498 L1182,510 L1174,521 L1171,538 L1168,561 L1163,564 L1151,561 L1140,555 L1125,550 L1123,561 L1117,578 L1108,590 L1103,601 L1086,601 L1083,598 L1086,612 L1091,629 L1091,641 L1080,647 L1074,658 L1080,672 L1077,681 L1063,686 L1057,698 L1057,706"/>
<path fill="none" stroke="#4e4e4e" stroke-width="3" stroke-linejoin="round" d="M35,440 L55,404 L60,384 L79,368 L94,354 L99,334 L102,321 L117,316 L134,309 L140,306 L157,314 L164,304 L171,274 L181,261 L212,269 L211,287 L221,292 L247,296 L261,314 L284,317 L291,309 L309,311 L311,321 L319,329 L329,334 L339,338 L348,338 L352,344 L354,338 L364,334 L375,330 L387,329 L403,329 L407,325 L410,317 L414,299 L418,292 L424,286 L430,282 L465,280 L469,284 L461,292 L459,303 L469,301 L476,294 L484,290 L492,290 L494,286 L501,277 L501,265 L497,246 L497,227 L494,216 L497,206 L511,194 L522,190 L539,168 L546,161 L558,163 L574,145 L589,133 L587,122 L598,125 L622,121 L629,126 L631,134 L645,135 L659,134 L662,152 L676,161 L692,168 L704,176 L716,183 L730,194 L740,204 L751,218 L763,223 L787,230 L794,232 L794,222 L804,220 L827,225 L863,231 L889,228 L898,218 L910,214 L922,215 L945,221 L950,211 L955,207 L964,210 L966,218 L983,220 L992,218 L1002,201 L1016,199 L1040,206 L1058,208 L1073,199 L1087,215 L1091,204 L1110,200 L1120,200 L1131,192 L1142,184 L1154,189 L1164,194 L1174,190 L1184,190 L1189,200 L1187,214 L1201,220 L1207,224 L1207,247 L1218,257 L1216,281 L1207,297 L1194,311 L1191,316 L1201,321 L1224,331 L1239,331 L1251,340 L1259,350 L1267,360 L1280,368 L1290,367 L1298,372 L1318,372 L1326,376 L1322,383 L1320,395 L1321,415 L1319,424 L1320,436 L1326,444 L1333,456 L1341,468 L1351,483 L1359,495 L1365,499 L1369,497 L1387,501 L1396,509 L1408,521 L1403,526 L1392,535 L1379,551 L1369,563 L1364,574 L1361,586 L1357,603 L1350,622 L1347,640 L1343,648 L1331,652 L1322,664 L1319,676 L1310,685 L1298,697 L1289,706 L1279,711 L1274,707 L1264,698 L1254,687 L1244,681 L1228,677 L1214,681 L1201,681 L1191,687 L1181,701 L1171,714 L1154,721 L1141,721 L1127,718 L1117,708 L1100,704 L1084,704 L1057,701 L1044,703 L1027,704 L1003,708 L980,714 L967,714 L960,711 L948,711 L915,708 L901,701 L881,701 L860,707 L847,705 L835,705 L820,709 L799,714 L778,712 L760,712 L756,714 L751,720 L745,728 L737,741 L731,747 L718,753 L710,757 L704,770 L689,776 L676,778 L662,775 L647,772 L635,772 L622,774 L610,780 L595,786 L581,795 L570,799 L560,809 L553,826 L543,843 L536,860 L533,871 L520,863 L510,866 L513,886 L510,896 L496,903 L480,910 L470,915 L460,906 L446,900 L433,893 L423,890 L413,873 L406,866 L393,860 L373,856 L366,846 L357,830 L350,823 L340,813 L330,800 L327,790 L323,780 L319,769 L316,759 L313,752 L306,755 L305,757 L313,756 L316,760 L319,766 L321,772 L325,775 L331,773 L337,769 L341,763 L339,759 L331,757 L327,756 L328,749 L327,743 L319,741 L314,736 L304,731 L297,729 L288,722 L279,704 L281,694 L291,684 L301,677 L291,671 L284,651 L278,634 L264,621 L241,604 L217,587 L191,580 L187,574 L174,565 L157,559 L137,549 L110,549 L87,552 L70,555 L59,555 L55,540 L52,527 L50,497 L47,483 L48,467 L40,450 Z"/>
<path fill="none" stroke="#4e4e4e" stroke-width="5" stroke-linejoin="round" stroke-linecap="round" d="M305,756 L311,753 L314,755 L317,762 L320,772 L324,782"/>
<ellipse cx="1080.5" cy="941.6" rx="2.4" ry="1.7" transform="rotate(-40 1080.5 941.6)" fill="#3a3a3a"/>
<path d="M1352,181.5 L1334.3,240 L1351.7,217.8 Z" fill="#000"/>
<path d="M1352,181.5 L1369.7,240 L1351.7,217.8 Z" fill="none" stroke="#000" stroke-width="1.6" stroke-linejoin="miter"/>
<path d="M385.5,966 V990.5 H648.5 V966 M451.5,966 V990 M517.5,966 V990 M583.5,966 V990" fill="none" stroke="#1a1a1a" stroke-width="2"/>
<rect x="765.7" y="808.50" width="41" height="26.5" rx="6" ry="6" fill="#ffffff" stroke="#777777" stroke-width="1"/>
<rect x="765.2" y="846.25" width="42" height="27.5" rx="6" ry="6" fill="#6ea60a"/>
<rect x="765.2" y="884.50" width="42" height="27.5" rx="6" ry="6" fill="#ffff30"/>
<rect x="765.2" y="922.75" width="42" height="27.5" rx="6" ry="6" fill="#e8a000"/>
<rect x="765.2" y="961.00" width="42" height="27.5" rx="6" ry="6" fill="#cc0000"/>
<path d="M1142.6,883.9 L1158.8,883.9 L1188.7,960.4 L1172.5,960.4 Z" fill="#178b3d"/>
<path d="M1107,960.4 L1122.4,960.4 L1158.8,883.9 L1142.5,883.9 Z" fill="#2e9e48"/>
<path d="M1143,939.9 C1158,939.3 1176,942.5 1188.7,960.4 L1173.8,960.4 C1166,954.5 1155,951.6 1143,952 Z" fill="#2e9e48"/>
</svg>
<div class="t" id="title" style="left:25.2px;top:30.7px;font-size:33.9px;font-weight:bold;color:#000;">ÍNDICE DE RIESGO DE INCENDIO FORESTAL - ANDALUCÍA</div>
<div class="t" id="date" style="left:33.4px;top:80.5px;font-size:29px;font-weight:bold;color:#000;">9 de agosto de 2023</div>
<div class="t" id="north" style="left:1343.2px;top:152.8px;font-size:26.5px;color:#000;transform-origin:0 0;transform:scaleX(1.03);">N</div>
<div class="t" id="lt" style="left:757.2px;top:762px;font-size:28.3px;font-weight:bold;color:#000;">Índice de Riesgo Diario</div>
<div class="t" id="l0" style="left:823.5px;top:811.1px;font-size:20.8px;color:#1a1a1a;">0 - Bajo</div>
<div class="t" id="l1" style="left:823.5px;top:849.5px;font-size:20.8px;color:#1a1a1a;">1 - Moderado</div>
<div class="t" id="l2" style="left:823.5px;top:887.3px;font-size:20.8px;color:#1a1a1a;">2 - Alto</div>
<div class="t" id="l3" style="left:823.5px;top:925.7px;font-size:20.8px;color:#1a1a1a;">3 - Muy Alto</div>
<div class="t" id="l4" style="left:823.5px;top:964px;font-size:20.8px;color:#1a1a1a;">4 - Extremo</div>
<div class="t sc" style="left:378.9px;">0</div>
<div class="t sc" style="left:438.8px;">25</div>
<div class="t sc" style="left:504.9px;">50</div>
<div class="t sc" style="left:571.1px;">75</div>
<div class="t sc" style="left:630.5px;">100</div>
<div class="t sc" style="left:678px;">Km</div>
<div class="t inf" style="left:17.45px;transform-origin:10.2px 36.8px;transform:scaleX(0.89) skewX(-2.8deg);">I</div>
<div class="t inf" style="left:30.10px;transform-origin:26.9px 36.8px;transform:scaleX(0.837) skewX(-2.8deg);">N</div>
<div class="t inf" style="left:71.10px;transform-origin:24.4px 36.8px;transform:scaleX(0.65) skewX(-2.8deg);">F</div>
<div class="t inf" style="left:104.95px;transform-origin:28.5px 36.8px;transform:scaleX(0.833) skewX(-2.8deg);">O</div>
<div class="t inf" style="left:149.80px;transform-origin:27.4px 36.8px;transform:scaleX(0.675) skewX(-2.8deg);">C</div>
<div class="t inf" style="left:189.10px;transform-origin:24.4px 36.8px;transform:scaleX(0.8) skewX(-2.8deg);">A</div>
<div class="t" id="junta" style="left:1199.7px;top:886.8px;font-size:34.4px;font-weight:bold;color:#2b2a29;transform-origin:0 0;transform:scaleX(0.967);">Junta</div>
<div class="t" id="deand" style="left:1199.7px;top:920.3px;font-size:34.4px;font-weight:bold;color:#2b2a29;transform-origin:0 0;transform:scaleX(0.934);">de Andalucía</div>
</body></html>
